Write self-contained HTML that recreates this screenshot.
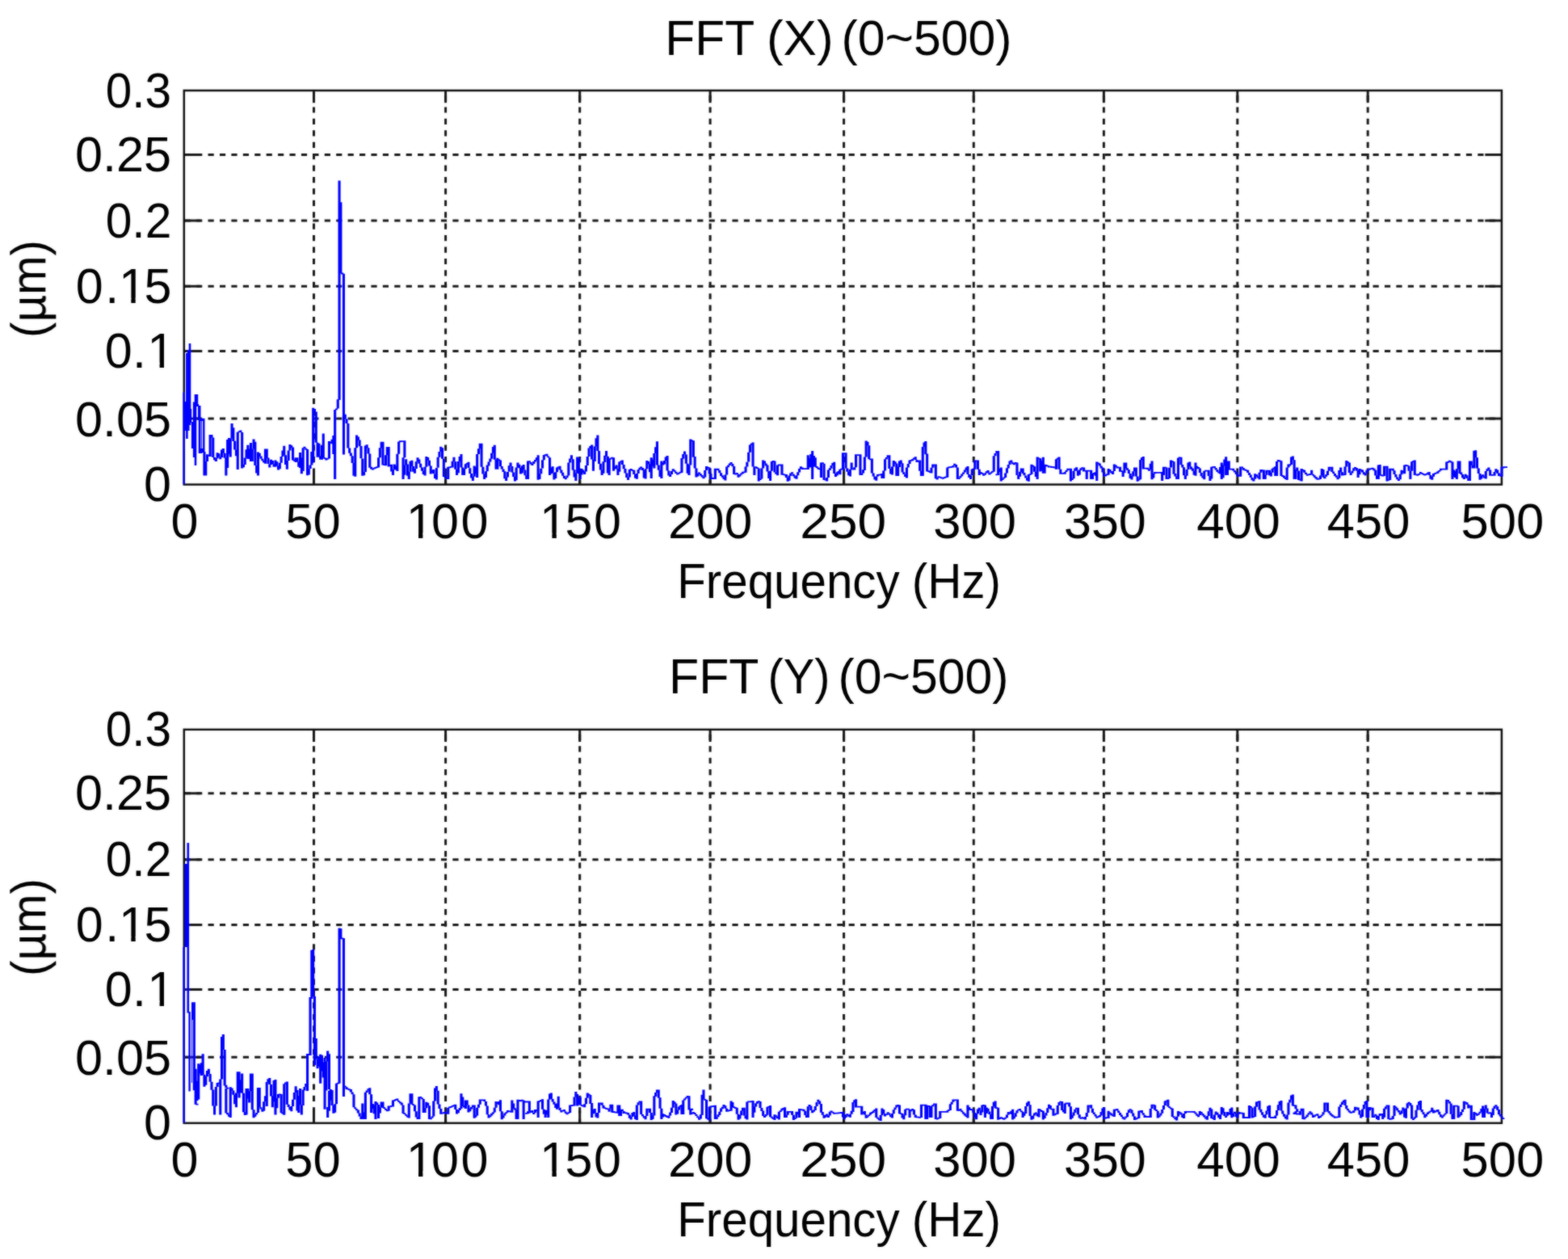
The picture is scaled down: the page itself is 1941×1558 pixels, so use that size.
<!DOCTYPE html>
<html lang="en">
<head>
<meta charset="utf-8">
<title>FFT (X) and FFT (Y) 0~500 Hz</title>
<style>
html,body{margin:0;padding:0;background:#fff;}
body{width:1941px;height:1558px;overflow:hidden;}
svg{display:block;}
.t{font-family:"Liberation Sans",sans-serif;font-size:61.0px;fill:#000;font-kerning:none;white-space:pre;}
.fr{fill:none;stroke:#111;stroke-width:2.5;}
.tk{fill:none;stroke:#1a1a1a;stroke-width:3.0;}
.gv{fill:none;stroke:#1a1a1a;stroke-width:3.0;stroke-dasharray:7.2 7.22;stroke-dashoffset:-6;}
.gh{fill:none;stroke:#1a1a1a;stroke-width:3.0;stroke-dasharray:7.2 7.22;stroke-dashoffset:-0.9;}
.ln{fill:#0000ff;stroke:none;}
</style>
</head>
<body>
<svg width="1941" height="1558" viewBox="0 0 1941 1558">
<defs><filter id="soft" x="0" y="0" width="1941" height="1558" filterUnits="userSpaceOnUse"><feGaussianBlur stdDeviation="1" result="b"/><feComposite in="SourceGraphic" in2="b" operator="arithmetic" k1="0" k2="0.5" k3="0.5" k4="0"/></filter><clipPath id="c0"><path clip-rule="evenodd" d="M465.5 595.7H642.1V695.7H465.5zM505.3 659.6H518.0V667.7H505.3zM523.4 659.6H535.6V667.7H523.4z"/></clipPath><clipPath id="c1"><path clip-rule="evenodd" d="M631.6 595.7H806.7V695.7H631.6zM670.7 659.6H683.4V667.7H670.7zM688.8 659.6H701.0V667.7H688.8z"/></clipPath><clipPath id="c2"><path clip-rule="evenodd" d="M56.4 304.8H249.6V404.8H56.4zM149.6 368.7H162.3V376.8H149.6zM167.7 368.7H179.9V376.8H167.7z"/></clipPath><clipPath id="c3"><path clip-rule="evenodd" d="M92.9 384.5H242.8V484.5H92.9zM184.9 448.4H197.6V456.5H184.9zM203.0 448.4H215.2V456.5H203.0z"/></clipPath><clipPath id="c4"><path clip-rule="evenodd" d="M465.5 1385.7H642.1V1485.7H465.5zM505.3 1449.6H518.0V1457.7H505.3zM523.4 1449.6H535.6V1457.7H523.4z"/></clipPath><clipPath id="c5"><path clip-rule="evenodd" d="M631.6 1385.7H806.7V1485.7H631.6zM670.7 1449.6H683.4V1457.7H670.7zM688.8 1449.6H701.0V1457.7H688.8z"/></clipPath><clipPath id="c6"><path clip-rule="evenodd" d="M56.4 1094.8H249.6V1194.8H56.4zM149.6 1158.7H162.3V1166.8H149.6zM167.7 1158.7H179.9V1166.8H167.7z"/></clipPath><clipPath id="c7"><path clip-rule="evenodd" d="M92.9 1174.5H242.8V1274.5H92.9zM184.9 1238.4H197.6V1246.5H184.9zM203.0 1238.4H215.2V1246.5H203.0z"/></clipPath></defs>
<rect width="1941" height="1558" fill="#fff"/>
<g filter="url(#soft)">
<g id="axes1">
<path class="gv" d="M388.5 112.0V599.6M551.6 112.0V599.6M717.7 112.0V599.6M879.1 112.0V599.6M1044.6 112.0V599.6M1205.3 112.0V599.6M1366.4 112.0V599.6M1531.8 112.0V599.6M1693.2 112.0V599.6"/>
<path class="gh" d="M227.8 191.4H1858.9M227.8 273.0H1858.9M227.8 354.3H1858.9M227.8 434.6H1858.9M227.8 517.9H1858.9"/>
<path class="tk" d="M388.5 112.0v15.2M388.5 599.6v-15.2M551.6 112.0v15.2M551.6 599.6v-15.2M717.7 112.0v15.2M717.7 599.6v-15.2M879.1 112.0v15.2M879.1 599.6v-15.2M1044.6 112.0v15.2M1044.6 599.6v-15.2M1205.3 112.0v15.2M1205.3 599.6v-15.2M1366.4 112.0v15.2M1366.4 599.6v-15.2M1531.8 112.0v15.2M1531.8 599.6v-15.2M1693.2 112.0v15.2M1693.2 599.6v-15.2M227.8 191.4h20.6M1858.9 191.4h-20.6M227.8 273.0h20.6M1858.9 273.0h-20.6M227.8 354.3h20.6M1858.9 354.3h-20.6M227.8 434.6h20.6M1858.9 434.6h-20.6M227.8 517.9h20.6M1858.9 517.9h-20.6"/>
<rect class="fr" x="227.8" y="112.0" width="1631.1" height="487.6"/>
<path class="ln" d="M251.4 559.0h3.1v29.6h-3.1zM253.2 571.0h3.1v17.6h-3.1zM255.0 562.3h3.1v8.8h-3.1zM256.8 562.7h3.1v1.8h-3.1zM258.6 538.0h3.1v27.0h-3.1zM260.4 538.0h3.1v3.6h-3.1zM262.2 541.6h3.1v24.4h-3.1zM264.0 566.0h3.1v3.2h-3.1zM265.8 567.2h3.1v3.8h-3.1zM267.6 560.2h3.1v7.0h-3.1zM269.4 561.3h3.1v4.0h-3.1zM271.2 565.2h3.1v3.1h-3.1zM273.0 556.5h3.1v9.6h-3.1zM274.8 555.1h3.1v5.7h-3.1zM276.6 560.8h3.1v5.9h-3.1zM278.3 566.3h3.1v22.3h-3.1zM280.1 544.1h3.1v34.9h-3.1zM281.9 542.0h3.1v19.9h-3.1zM283.7 542.6h3.1v23.0h-3.1zM285.5 523.9h3.1v18.7h-3.1zM287.3 529.3h3.1v16.6h-3.1zM289.1 545.8h3.1v10.6h-3.1zM290.9 556.4h3.1v7.9h-3.1zM292.7 534.8h3.1v46.2h-3.1zM294.5 533.5h3.1v1.8h-3.1zM296.3 532.5h3.1v2.6h-3.1zM298.1 535.0h3.1v44.6h-3.1zM299.9 574.8h3.1v3.5h-3.1zM301.7 566.5h3.1v8.6h-3.1zM303.5 556.3h3.1v10.3h-3.1zM305.3 550.8h3.1v17.2h-3.1zM307.1 555.6h3.1v12.4h-3.1zM308.9 548.0h3.1v23.0h-3.1zM310.7 555.4h3.1v15.6h-3.1zM312.5 543.4h3.1v12.0h-3.1zM314.3 546.8h3.1v29.2h-3.1zM316.1 576.0h3.1v9.6h-3.1zM317.9 559.5h3.1v29.1h-3.1zM319.7 560.7h3.1v4.2h-3.1zM321.5 564.4h3.1v3.3h-3.1zM323.3 567.7h3.1v2.5h-3.1zM325.1 570.1h3.1v2.5h-3.1zM326.9 555.5h3.1v18.2h-3.1zM328.7 555.5h3.1v11.6h-3.1zM330.4 566.4h3.1v7.7h-3.1zM332.2 574.2h3.1v4.3h-3.1zM334.0 568.7h3.1v6.3h-3.1zM335.8 570.1h3.1v4.1h-3.1zM337.6 574.2h3.1v3.6h-3.1zM339.4 569.6h3.1v8.2h-3.1zM341.2 571.3h3.1v5.1h-3.1zM343.0 576.4h3.1v5.1h-3.1zM344.8 572.7h3.1v7.6h-3.1zM346.6 565.1h3.1v7.6h-3.1zM348.4 557.5h3.1v7.6h-3.1zM350.2 551.8h3.1v11.4h-3.1zM352.0 563.2h3.1v11.8h-3.1zM353.8 569.9h3.1v10.8h-3.1zM355.6 557.6h3.1v12.3h-3.1zM357.4 550.1h3.1v7.5h-3.1zM359.2 551.2h3.1v2.8h-3.1zM361.0 553.6h3.1v15.8h-3.1zM362.8 568.6h3.1v2.1h-3.1zM364.6 566.2h3.1v5.8h-3.1zM366.4 566.2h3.1v5.3h-3.1zM368.2 571.5h3.1v6.2h-3.1zM370.0 560.1h3.1v18.9h-3.1zM371.8 566.6h3.1v19.7h-3.1zM373.6 554.3h3.1v28.6h-3.1zM375.4 552.7h3.1v2.1h-3.1zM377.2 554.8h3.1v2.0h-3.1zM379.0 556.0h3.1v32.2h-3.1zM380.7 580.0h3.1v7.4h-3.1zM382.5 575.5h3.1v4.5h-3.1zM384.3 559.0h3.1v16.5h-3.1zM386.1 504.8h3.1v67.6h-3.1zM387.9 505.9h3.1v3.5h-3.1zM389.7 509.4h3.1v38.3h-3.1zM391.5 547.7h3.1v18.0h-3.1zM393.3 548.7h3.1v17.0h-3.1zM395.1 564.2h3.1v4.6h-3.1zM396.9 550.8h3.1v18.0h-3.1zM398.7 536.4h3.1v30.4h-3.1zM400.5 566.3h3.1v1.8h-3.1zM402.3 567.3h3.1v2.2h-3.1zM404.1 566.7h3.1v1.8h-3.1zM405.9 545.9h3.1v21.5h-3.1zM407.7 546.7h3.1v1.8h-3.1zM409.5 543.8h3.1v5.5h-3.1zM411.3 538.9h3.1v23.2h-3.1zM413.1 507.0h3.1v86.0h-3.1zM414.9 505.5h3.1v1.8h-3.1zM416.7 494.2h3.1v11.3h-3.1zM418.5 223.6h3.1v271.4h-3.1zM420.3 250.2h3.1v88.1h-3.1zM422.1 337.6h3.1v1.8h-3.1zM423.9 338.7h3.1v223.7h-3.1zM425.7 512.7h3.1v5.7h-3.1zM427.5 518.4h3.1v5.6h-3.1zM429.3 524.0h3.1v30.4h-3.1zM431.1 554.4h3.1v6.3h-3.1zM432.8 560.6h3.1v3.6h-3.1zM434.6 564.2h3.1v8.9h-3.1zM436.4 573.1h3.1v15.7h-3.1zM438.2 554.2h3.1v35.5h-3.1zM440.0 538.4h3.1v15.8h-3.1zM441.8 540.4h3.1v4.5h-3.1zM443.6 544.4h3.1v7.8h-3.1zM445.4 552.1h3.1v15.2h-3.1zM447.2 567.4h3.1v21.3h-3.1zM449.0 583.9h3.1v4.3h-3.1zM450.8 551.5h3.1v32.4h-3.1zM452.6 550.3h3.1v4.1h-3.1zM454.4 554.3h3.1v7.1h-3.1zM456.2 561.5h3.1v17.2h-3.1zM458.0 577.8h3.1v2.7h-3.1zM459.8 579.4h3.1v2.0h-3.1zM461.6 578.7h3.1v1.8h-3.1zM463.4 577.9h3.1v1.8h-3.1zM465.2 577.2h3.1v1.8h-3.1zM467.0 566.2h3.1v12.3h-3.1zM468.8 554.3h3.1v11.9h-3.1zM470.6 546.7h3.1v7.7h-3.1zM472.4 546.7h3.1v28.8h-3.1zM474.2 574.2h3.1v1.8h-3.1zM476.0 563.2h3.1v13.1h-3.1zM477.8 552.9h3.1v10.3h-3.1zM479.6 552.9h3.1v24.5h-3.1zM481.4 575.1h3.1v1.8h-3.1zM483.1 574.7h3.1v8.9h-3.1zM484.9 580.9h3.1v7.0h-3.1zM486.7 574.5h3.1v6.4h-3.1zM488.5 576.6h3.1v4.8h-3.1zM490.3 561.8h3.1v21.2h-3.1zM492.1 546.4h3.1v15.4h-3.1zM493.9 545.3h3.1v1.9h-3.1zM495.7 545.3h3.1v1.8h-3.1zM497.5 545.3h3.1v1.8h-3.1zM497.5 566.2h3.1v26.8h-3.1zM499.3 545.3h3.1v20.9h-3.1zM499.3 575.4h3.1v12.3h-3.1zM501.1 568.3h3.1v7.1h-3.1zM502.9 574.4h3.1v14.3h-3.1zM504.7 583.8h3.1v9.2h-3.1zM506.5 570.7h3.1v13.1h-3.1zM508.3 569.7h3.1v7.3h-3.1zM510.1 577.0h3.1v6.7h-3.1zM511.9 579.9h3.1v5.9h-3.1zM513.7 571.3h3.1v8.6h-3.1zM515.5 566.2h3.1v5.1h-3.1zM517.3 568.4h3.1v5.4h-3.1zM519.1 573.7h3.1v4.7h-3.1zM520.9 578.4h3.1v4.3h-3.1zM522.7 582.7h3.1v4.3h-3.1zM524.5 577.8h3.1v10.6h-3.1zM526.3 564.9h3.1v12.8h-3.1zM528.1 565.9h3.1v3.9h-3.1zM529.9 569.8h3.1v6.6h-3.1zM531.7 576.5h3.1v9.9h-3.1zM533.5 582.2h3.1v2.9h-3.1zM535.2 581.0h3.1v5.3h-3.1zM537.0 586.4h3.1v5.6h-3.1zM538.8 578.9h3.1v14.6h-3.1zM540.6 565.7h3.1v13.1h-3.1zM542.4 559.0h3.1v6.7h-3.1zM544.2 552.7h3.1v6.3h-3.1zM546.0 554.2h3.1v13.5h-3.1zM547.8 567.7h3.1v22.2h-3.1zM549.6 589.1h3.1v2.0h-3.1zM551.4 591.1h3.1v1.9h-3.1zM553.2 577.7h3.1v15.3h-3.1zM555.0 577.4h3.1v1.8h-3.1zM556.8 577.0h3.1v1.8h-3.1zM558.6 570.8h3.1v7.8h-3.1zM560.4 565.7h3.1v5.5h-3.1zM562.2 571.2h3.1v9.5h-3.1zM564.0 580.7h3.1v7.2h-3.1zM565.8 571.1h3.1v14.1h-3.1zM567.6 564.9h3.1v6.3h-3.1zM569.4 562.1h3.1v16.5h-3.1zM571.2 578.6h3.1v9.3h-3.1zM573.0 580.2h3.1v7.7h-3.1zM574.8 574.2h3.1v6.0h-3.1zM576.6 572.9h3.1v1.8h-3.1zM578.4 571.7h3.1v7.4h-3.1zM580.2 579.2h3.1v6.9h-3.1zM582.0 586.1h3.1v5.4h-3.1zM583.8 589.8h3.1v5.3h-3.1zM585.6 576.4h3.1v13.4h-3.1zM587.3 578.0h3.1v8.3h-3.1zM589.1 562.1h3.1v28.9h-3.1zM590.9 555.2h3.1v6.9h-3.1zM592.7 548.7h3.1v6.5h-3.1zM594.5 548.7h3.1v29.0h-3.1zM596.3 577.7h3.1v8.8h-3.1zM598.1 586.5h3.1v6.5h-3.1zM599.9 583.3h3.1v7.7h-3.1zM601.7 575.6h3.1v7.7h-3.1zM603.5 571.5h3.1v5.0h-3.1zM605.3 567.4h3.1v4.1h-3.1zM607.1 560.8h3.1v6.9h-3.1zM608.9 553.1h3.1v7.7h-3.1zM610.7 550.8h3.1v17.9h-3.1zM612.5 568.7h3.1v12.0h-3.1zM614.3 566.8h3.1v13.9h-3.1zM616.1 568.2h3.1v2.1h-3.1zM617.9 569.5h3.1v7.7h-3.1zM619.7 577.0h3.1v3.5h-3.1zM621.5 580.5h3.1v3.4h-3.1zM623.3 583.3h3.1v8.9h-3.1zM625.1 590.6h3.1v4.5h-3.1zM626.9 583.9h3.1v6.7h-3.1zM628.7 576.3h3.1v7.5h-3.1zM630.5 572.4h3.1v4.5h-3.1zM632.3 576.9h3.1v7.7h-3.1zM634.1 584.5h3.1v5.4h-3.1zM635.9 590.0h3.1v5.6h-3.1zM637.6 578.5h3.1v15.7h-3.1zM639.4 572.4h3.1v6.1h-3.1zM641.2 574.7h3.1v4.6h-3.1zM643.0 579.1h3.1v7.4h-3.1zM644.8 576.6h3.1v8.8h-3.1zM646.6 575.1h3.1v6.4h-3.1zM648.4 581.5h3.1v6.8h-3.1zM650.2 588.3h3.1v4.7h-3.1zM652.0 570.4h3.1v22.6h-3.1zM653.8 570.3h3.1v1.8h-3.1zM655.6 571.9h3.1v2.5h-3.1zM657.4 573.8h3.1v2.1h-3.1zM659.2 571.0h3.1v3.1h-3.1zM661.0 569.0h3.1v2.4h-3.1zM662.8 566.2h3.1v3.4h-3.1zM664.6 563.2h3.1v30.6h-3.1zM666.4 586.3h3.1v6.6h-3.1zM668.2 579.7h3.1v6.6h-3.1zM670.0 569.3h3.1v10.3h-3.1zM671.8 563.0h3.1v6.3h-3.1zM673.6 562.3h3.1v1.8h-3.1zM675.4 561.8h3.1v2.6h-3.1zM677.2 564.4h3.1v1.8h-3.1zM679.0 566.2h3.1v21.7h-3.1zM680.8 578.8h3.1v7.4h-3.1zM682.6 577.3h3.1v7.8h-3.1zM684.4 585.1h3.1v8.4h-3.1zM686.2 584.3h3.1v7.8h-3.1zM688.0 578.4h3.1v5.9h-3.1zM689.7 577.5h3.1v1.8h-3.1zM691.5 576.7h3.1v4.7h-3.1zM693.3 581.5h3.1v4.1h-3.1zM695.1 584.8h3.1v4.0h-3.1zM696.9 588.8h3.1v3.2h-3.1zM698.7 591.2h3.1v2.1h-3.1zM700.5 588.6h3.1v2.7h-3.1zM702.3 572.4h3.1v16.2h-3.1zM704.1 567.4h3.1v5.0h-3.1zM705.9 563.2h3.1v5.0h-3.1zM707.7 568.2h3.1v13.5h-3.1zM709.5 581.3h3.1v9.3h-3.1zM711.3 585.6h3.1v9.5h-3.1zM713.1 565.6h3.1v20.0h-3.1zM714.9 566.7h3.1v19.3h-3.1zM716.7 586.0h3.1v7.0h-3.1zM718.5 580.1h3.1v7.5h-3.1zM720.3 581.4h3.1v3.6h-3.1zM722.1 583.5h3.1v3.4h-3.1zM723.9 576.0h3.1v7.4h-3.1zM725.7 565.1h3.1v10.9h-3.1zM727.5 554.5h3.1v10.6h-3.1zM729.3 551.9h3.1v3.0h-3.1zM731.1 550.5h3.1v18.1h-3.1zM732.9 568.6h3.1v14.1h-3.1zM734.7 552.5h3.1v18.6h-3.1zM736.5 542.3h3.1v10.1h-3.1zM738.3 538.4h3.1v19.6h-3.1zM740.0 558.0h3.1v15.9h-3.1zM741.8 573.7h3.1v7.7h-3.1zM743.6 581.4h3.1v6.5h-3.1zM745.4 571.3h3.1v14.4h-3.1zM747.2 563.7h3.1v8.3h-3.1zM749.0 558.0h3.1v6.7h-3.1zM750.8 564.7h3.1v20.7h-3.1zM752.6 567.4h3.1v20.5h-3.1zM754.4 566.8h3.1v1.8h-3.1zM756.2 565.8h3.1v1.8h-3.1zM758.0 566.2h3.1v16.5h-3.1zM759.8 577.3h3.1v3.2h-3.1zM761.6 575.5h3.1v4.7h-3.1zM763.4 580.2h3.1v7.7h-3.1zM765.2 571.4h3.1v12.4h-3.1zM767.0 570.4h3.1v1.8h-3.1zM768.8 569.5h3.1v5.5h-3.1zM770.6 575.0h3.1v5.2h-3.1zM772.4 580.0h3.1v5.6h-3.1zM774.2 585.5h3.1v5.4h-3.1zM776.0 590.4h3.1v3.7h-3.1zM777.8 581.1h3.1v9.3h-3.1zM779.6 580.0h3.1v2.1h-3.1zM781.4 581.3h3.1v1.8h-3.1zM783.2 581.8h3.1v5.3h-3.1zM785.0 587.1h3.1v4.6h-3.1zM786.8 585.9h3.1v6.9h-3.1zM788.6 581.1h3.1v4.8h-3.1zM790.4 578.7h3.1v2.7h-3.1zM792.1 577.5h3.1v2.1h-3.1zM793.9 579.1h3.1v3.0h-3.1zM795.7 581.7h3.1v9.7h-3.1zM797.5 580.3h3.1v12.3h-3.1zM799.3 569.9h3.1v10.4h-3.1zM801.1 571.1h3.1v3.5h-3.1zM802.9 574.2h3.1v10.0h-3.1zM804.7 566.2h3.1v25.8h-3.1zM806.5 568.8h3.1v8.0h-3.1zM808.3 561.1h3.1v18.5h-3.1zM810.1 553.3h3.1v7.8h-3.1zM811.9 546.2h3.1v29.3h-3.1zM813.7 575.5h3.1v6.2h-3.1zM815.5 581.7h3.1v8.2h-3.1zM817.3 570.4h3.1v21.6h-3.1zM819.1 572.2h3.1v3.2h-3.1zM820.9 569.9h3.1v4.5h-3.1zM822.7 565.4h3.1v4.5h-3.1zM824.5 563.9h3.1v18.5h-3.1zM826.3 582.4h3.1v6.0h-3.1zM828.1 586.9h3.1v3.1h-3.1zM829.9 582.9h3.1v4.0h-3.1zM831.7 580.3h3.1v2.6h-3.1zM833.5 581.7h3.1v2.1h-3.1zM835.3 583.8h3.1v2.1h-3.1zM837.1 585.5h3.1v2.0h-3.1zM838.9 584.8h3.1v1.8h-3.1zM840.7 583.8h3.1v1.8h-3.1zM842.4 567.1h3.1v17.8h-3.1zM844.2 562.0h3.1v5.7h-3.1zM846.0 558.5h3.1v4.1h-3.1zM847.8 562.6h3.1v11.1h-3.1zM849.6 573.7h3.1v12.1h-3.1zM851.4 575.5h3.1v12.4h-3.1zM853.2 543.6h3.1v31.9h-3.1zM855.0 544.6h3.1v1.8h-3.1zM856.8 545.3h3.1v20.4h-3.1zM858.6 564.9h3.1v14.7h-3.1zM860.4 579.6h3.1v11.0h-3.1zM862.2 586.1h3.1v3.5h-3.1zM864.0 584.5h3.1v1.9h-3.1zM865.8 586.3h3.1v2.4h-3.1zM867.6 587.9h3.1v2.7h-3.1zM869.4 590.3h3.1v1.9h-3.1zM871.2 582.1h3.1v8.3h-3.1zM873.0 577.0h3.1v5.1h-3.1zM874.8 577.8h3.1v1.8h-3.1zM876.6 578.6h3.1v7.7h-3.1zM878.4 586.2h3.1v6.7h-3.1zM880.2 591.1h3.1v1.8h-3.1zM882.0 591.1h3.1v1.8h-3.1zM883.8 579.8h3.1v13.1h-3.1zM885.6 579.8h3.1v1.8h-3.1zM887.4 579.8h3.1v2.5h-3.1zM889.2 582.1h3.1v3.2h-3.1zM891.0 585.3h3.1v3.7h-3.1zM892.8 588.3h3.1v2.4h-3.1zM894.5 590.7h3.1v2.4h-3.1zM896.3 587.6h3.1v6.9h-3.1zM898.1 577.5h3.1v10.1h-3.1zM899.9 575.8h3.1v2.4h-3.1zM901.7 573.5h3.1v2.4h-3.1zM903.5 572.0h3.1v2.1h-3.1zM905.3 574.1h3.1v3.1h-3.1zM907.1 577.0h3.1v9.9h-3.1zM908.9 585.7h3.1v1.8h-3.1zM910.7 585.1h3.1v2.0h-3.1zM912.5 586.8h3.1v3.9h-3.1zM914.3 587.6h3.1v2.0h-3.1zM916.1 585.6h3.1v2.0h-3.1zM917.9 583.8h3.1v2.4h-3.1zM919.7 583.4h3.1v1.8h-3.1zM921.5 577.6h3.1v7.2h-3.1zM923.3 571.7h3.1v5.9h-3.1zM925.1 559.7h3.1v11.9h-3.1zM926.9 550.4h3.1v9.3h-3.1zM928.7 548.7h3.1v2.1h-3.1zM930.5 547.6h3.1v30.0h-3.1zM932.3 577.6h3.1v10.3h-3.1zM934.1 577.2h3.1v1.8h-3.1zM935.9 578.2h3.1v1.8h-3.1zM937.7 579.6h3.1v15.8h-3.1zM939.5 592.1h3.1v1.8h-3.1zM941.3 579.6h3.1v12.8h-3.1zM943.1 569.5h3.1v10.1h-3.1zM944.9 570.4h3.1v3.0h-3.1zM946.6 573.4h3.1v3.0h-3.1zM948.4 575.6h3.1v7.9h-3.1zM950.2 583.3h3.1v8.8h-3.1zM952.0 582.7h3.1v12.4h-3.1zM953.8 571.1h3.1v11.6h-3.1zM955.6 570.1h3.1v1.8h-3.1zM957.4 570.4h3.1v14.1h-3.1zM959.2 584.5h3.1v2.2h-3.1zM961.0 575.5h3.1v12.7h-3.1zM962.8 574.6h3.1v1.8h-3.1zM964.6 574.6h3.1v1.8h-3.1zM966.4 574.6h3.1v13.2h-3.1zM968.2 586.3h3.1v1.8h-3.1zM970.0 586.7h3.1v1.8h-3.1zM971.8 586.9h3.1v4.2h-3.1zM973.6 591.1h3.1v4.6h-3.1zM975.4 588.5h3.1v6.2h-3.1zM977.2 585.5h3.1v3.6h-3.1zM979.0 584.2h3.1v2.4h-3.1zM980.8 586.7h3.1v2.5h-3.1zM982.6 589.2h3.1v2.5h-3.1zM984.4 588.3h3.1v4.5h-3.1zM986.2 584.2h3.1v4.1h-3.1zM988.0 580.0h3.1v4.4h-3.1zM989.8 577.2h3.1v2.8h-3.1zM991.6 578.5h3.1v2.6h-3.1zM993.4 579.3h3.1v1.8h-3.1zM995.2 579.3h3.1v1.8h-3.1zM996.9 579.3h3.1v1.8h-3.1zM998.7 563.2h3.1v17.9h-3.1zM1000.5 567.0h3.1v11.6h-3.1zM1002.3 562.1h3.1v16.5h-3.1zM1004.1 558.0h3.1v35.0h-3.1zM1005.9 564.0h3.1v13.6h-3.1zM1007.7 566.2h3.1v11.6h-3.1zM1009.5 577.1h3.1v1.9h-3.1zM1011.3 578.4h3.1v2.3h-3.1zM1013.1 579.5h3.1v1.8h-3.1zM1014.9 572.4h3.1v18.6h-3.1zM1016.7 572.2h3.1v1.8h-3.1zM1018.5 573.8h3.1v20.2h-3.1zM1020.3 592.8h3.1v1.8h-3.1zM1022.1 591.1h3.1v4.5h-3.1zM1023.9 581.5h3.1v9.6h-3.1zM1025.7 579.2h3.1v2.8h-3.1zM1027.5 576.1h3.1v3.7h-3.1zM1029.3 573.0h3.1v3.1h-3.1zM1031.1 571.8h3.1v14.1h-3.1zM1032.9 585.9h3.1v4.2h-3.1zM1034.7 584.2h3.1v4.2h-3.1zM1036.5 583.1h3.1v2.7h-3.1zM1038.3 580.7h3.1v6.6h-3.1zM1040.1 579.8h3.1v1.8h-3.1zM1041.9 560.2h3.1v21.4h-3.1zM1043.7 560.2h3.1v1.8h-3.1zM1045.5 560.2h3.1v19.4h-3.1zM1047.3 579.6h3.1v4.1h-3.1zM1049.0 583.7h3.1v4.6h-3.1zM1050.8 580.7h3.1v8.8h-3.1zM1052.6 572.4h3.1v8.3h-3.1zM1054.4 579.8h3.1v1.8h-3.1zM1056.2 578.2h3.1v3.4h-3.1zM1058.0 562.3h3.1v15.9h-3.1zM1059.8 562.3h3.1v1.8h-3.1zM1061.6 562.3h3.1v1.8h-3.1zM1063.4 562.3h3.1v25.6h-3.1zM1065.2 585.4h3.1v2.5h-3.1zM1067.0 581.3h3.1v4.2h-3.1zM1068.8 565.5h3.1v16.4h-3.1zM1070.6 545.6h3.1v19.8h-3.1zM1072.4 546.8h3.1v4.5h-3.1zM1074.2 551.3h3.1v17.0h-3.1zM1076.0 567.4h3.1v1.8h-3.1zM1077.8 567.4h3.1v18.1h-3.1zM1079.6 585.5h3.1v4.0h-3.1zM1081.4 589.5h3.1v4.0h-3.1zM1083.2 589.6h3.1v5.1h-3.1zM1085.0 586.9h3.1v2.7h-3.1zM1086.8 586.7h3.1v1.8h-3.1zM1088.6 586.4h3.1v1.8h-3.1zM1090.4 586.1h3.1v5.9h-3.1zM1092.2 582.5h3.1v9.5h-3.1zM1094.0 568.3h3.1v14.2h-3.1zM1095.8 565.9h3.1v2.4h-3.1zM1097.6 563.2h3.1v2.7h-3.1zM1099.3 563.2h3.1v16.7h-3.1zM1101.1 579.9h3.1v6.6h-3.1zM1102.9 577.6h3.1v10.0h-3.1zM1104.7 569.9h3.1v7.7h-3.1zM1106.5 571.2h3.1v2.8h-3.1zM1108.3 573.4h3.1v15.5h-3.1zM1110.1 577.3h3.1v11.6h-3.1zM1111.9 570.5h3.1v7.4h-3.1zM1113.7 569.6h3.1v4.3h-3.1zM1115.5 573.3h3.1v11.1h-3.1zM1117.3 584.2h3.1v2.9h-3.1zM1119.1 587.1h3.1v2.9h-3.1zM1120.9 578.6h3.1v12.8h-3.1zM1122.7 574.0h3.1v4.6h-3.1zM1124.5 569.4h3.1v4.6h-3.1zM1126.3 569.0h3.1v1.8h-3.1zM1128.1 568.0h3.1v2.3h-3.1zM1129.9 566.5h3.1v2.1h-3.1zM1131.7 565.2h3.1v3.7h-3.1zM1133.5 568.9h3.1v3.2h-3.1zM1135.3 569.9h3.1v1.8h-3.1zM1137.1 569.6h3.1v13.1h-3.1zM1138.9 582.7h3.1v6.2h-3.1zM1140.7 553.0h3.1v35.9h-3.1zM1142.5 547.4h3.1v5.6h-3.1zM1144.3 545.9h3.1v16.3h-3.1zM1146.1 561.4h3.1v22.2h-3.1zM1147.9 582.3h3.1v1.8h-3.1zM1149.7 583.2h3.1v1.8h-3.1zM1151.4 578.8h3.1v6.8h-3.1zM1153.2 574.6h3.1v4.2h-3.1zM1155.0 574.6h3.1v1.8h-3.1zM1156.8 574.6h3.1v17.6h-3.1zM1158.6 591.0h3.1v2.5h-3.1zM1160.4 589.2h3.1v2.1h-3.1zM1162.2 589.8h3.1v1.8h-3.1zM1164.0 590.5h3.1v1.8h-3.1zM1165.8 590.8h3.1v2.0h-3.1zM1167.6 590.2h3.1v1.8h-3.1zM1169.4 589.5h3.1v1.8h-3.1zM1171.2 578.6h3.1v12.2h-3.1zM1173.0 577.5h3.1v1.8h-3.1zM1174.8 577.2h3.1v1.8h-3.1zM1176.6 576.9h3.1v1.8h-3.1zM1178.4 575.9h3.1v2.6h-3.1zM1180.2 573.8h3.1v2.3h-3.1zM1182.0 575.0h3.1v3.6h-3.1zM1183.8 578.6h3.1v14.4h-3.1zM1185.6 591.2h3.1v1.8h-3.1zM1187.4 589.0h3.1v2.2h-3.1zM1189.2 586.4h3.1v2.9h-3.1zM1191.0 584.5h3.1v2.3h-3.1zM1192.8 581.4h3.1v3.1h-3.1zM1194.6 578.4h3.1v3.5h-3.1zM1196.4 577.1h3.1v9.8h-3.1zM1198.2 586.9h3.1v4.0h-3.1zM1200.0 588.2h3.1v4.8h-3.1zM1201.7 580.6h3.1v7.5h-3.1zM1203.5 579.9h3.1v1.8h-3.1zM1205.3 569.5h3.1v11.3h-3.1zM1207.1 569.5h3.1v1.8h-3.1zM1208.9 569.5h3.1v11.2h-3.1zM1210.7 580.7h3.1v7.4h-3.1zM1212.5 584.1h3.1v2.5h-3.1zM1214.3 585.0h3.1v1.8h-3.1zM1216.1 586.3h3.1v2.4h-3.1zM1217.9 585.5h3.1v2.3h-3.1zM1219.7 583.3h3.1v2.3h-3.1zM1221.5 582.1h3.1v3.3h-3.1zM1223.3 585.3h3.1v2.1h-3.1zM1225.1 584.4h3.1v1.8h-3.1zM1226.9 582.9h3.1v1.8h-3.1zM1228.7 564.2h3.1v19.6h-3.1zM1230.5 561.1h3.1v3.1h-3.1zM1232.3 558.0h3.1v3.1h-3.1zM1232.3 586.4h3.1v1.8h-3.1zM1234.1 558.0h3.1v29.9h-3.1zM1235.9 580.1h3.1v3.9h-3.1zM1237.7 578.5h3.1v17.0h-3.1zM1239.5 592.3h3.1v1.8h-3.1zM1241.3 590.5h3.1v1.8h-3.1zM1243.1 585.5h3.1v5.6h-3.1zM1244.9 579.2h3.1v6.3h-3.1zM1246.7 575.0h3.1v4.4h-3.1zM1248.5 570.6h3.1v4.4h-3.1zM1250.3 569.6h3.1v2.7h-3.1zM1252.1 572.3h3.1v2.0h-3.1zM1253.8 573.0h3.1v2.3h-3.1zM1255.6 572.0h3.1v1.8h-3.1zM1257.4 572.4h3.1v15.6h-3.1zM1259.2 588.0h3.1v5.0h-3.1zM1261.0 583.8h3.1v6.0h-3.1zM1262.8 579.6h3.1v4.5h-3.1zM1264.6 579.6h3.1v6.3h-3.1zM1266.4 585.1h3.1v3.2h-3.1zM1268.2 588.4h3.1v3.2h-3.1zM1270.0 591.6h3.1v3.2h-3.1zM1271.8 586.9h3.1v8.9h-3.1zM1273.6 586.3h3.1v1.8h-3.1zM1275.4 574.7h3.1v12.4h-3.1zM1277.2 575.7h3.1v2.1h-3.1zM1279.0 577.3h3.1v6.4h-3.1zM1280.8 583.7h3.1v6.4h-3.1zM1282.6 565.6h3.1v27.4h-3.1zM1284.4 566.5h3.1v1.8h-3.1zM1286.2 567.3h3.1v16.1h-3.1zM1288.0 570.3h3.1v12.2h-3.1zM1289.8 565.7h3.1v20.1h-3.1zM1291.6 574.7h3.1v11.1h-3.1zM1293.4 575.1h3.1v1.8h-3.1zM1295.2 575.7h3.1v1.8h-3.1zM1297.0 576.4h3.1v2.1h-3.1zM1298.8 576.8h3.1v1.8h-3.1zM1300.6 577.1h3.1v1.8h-3.1zM1302.4 577.3h3.1v1.8h-3.1zM1304.2 577.6h3.1v1.8h-3.1zM1305.9 568.3h3.1v12.4h-3.1zM1307.7 566.7h3.1v1.8h-3.1zM1309.5 565.4h3.1v15.3h-3.1zM1311.3 580.7h3.1v6.0h-3.1zM1313.1 584.9h3.1v1.8h-3.1zM1314.9 584.9h3.1v1.8h-3.1zM1316.7 584.0h3.1v2.7h-3.1zM1318.5 581.9h3.1v2.2h-3.1zM1320.3 579.8h3.1v2.4h-3.1zM1322.1 579.8h3.1v1.8h-3.1zM1323.9 579.8h3.1v15.6h-3.1zM1325.7 591.6h3.1v2.4h-3.1zM1327.5 582.7h3.1v9.5h-3.1zM1329.3 579.5h3.1v3.2h-3.1zM1331.1 578.2h3.1v4.5h-3.1zM1332.9 582.6h3.1v6.1h-3.1zM1334.7 581.6h3.1v6.2h-3.1zM1336.5 579.3h3.1v2.8h-3.1zM1338.3 578.2h3.1v1.8h-3.1zM1340.1 578.6h3.1v5.0h-3.1zM1341.9 581.8h3.1v1.8h-3.1zM1343.7 581.8h3.1v11.2h-3.1zM1345.5 581.8h3.1v1.8h-3.1zM1347.3 581.8h3.1v1.8h-3.1zM1349.1 581.8h3.1v11.2h-3.1zM1350.9 585.9h3.1v7.1h-3.1zM1352.7 585.1h3.1v1.8h-3.1zM1354.5 584.2h3.1v4.6h-3.1zM1356.2 571.6h3.1v23.5h-3.1zM1358.0 572.4h3.1v1.8h-3.1zM1359.8 573.4h3.1v3.1h-3.1zM1361.6 576.5h3.1v3.0h-3.1zM1363.4 578.6h3.1v6.0h-3.1zM1365.2 584.6h3.1v5.1h-3.1zM1367.0 587.4h3.1v1.8h-3.1zM1368.8 586.5h3.1v1.8h-3.1zM1370.6 580.1h3.1v7.7h-3.1zM1372.4 581.1h3.1v2.7h-3.1zM1374.2 583.2h3.1v2.4h-3.1zM1376.0 583.1h3.1v4.0h-3.1zM1377.8 574.6h3.1v8.5h-3.1zM1379.6 575.6h3.1v2.2h-3.1zM1381.4 577.3h3.1v2.2h-3.1zM1383.2 577.7h3.1v1.8h-3.1zM1385.0 577.7h3.1v6.0h-3.1zM1386.8 582.3h3.1v1.8h-3.1zM1388.6 582.8h3.1v7.1h-3.1zM1390.4 572.4h3.1v12.8h-3.1zM1392.2 572.4h3.1v7.4h-3.1zM1394.0 579.3h3.1v2.4h-3.1zM1395.8 581.3h3.1v4.8h-3.1zM1397.6 586.1h3.1v6.0h-3.1zM1399.4 589.1h3.1v4.3h-3.1zM1401.2 583.2h3.1v6.2h-3.1zM1403.0 578.6h3.1v4.6h-3.1zM1404.8 578.6h3.1v10.8h-3.1zM1406.6 589.4h3.1v6.4h-3.1zM1408.3 592.8h3.1v1.8h-3.1zM1410.1 569.1h3.1v24.2h-3.1zM1411.9 566.3h3.1v3.2h-3.1zM1413.7 565.1h3.1v15.4h-3.1zM1415.5 578.7h3.1v1.8h-3.1zM1417.3 578.7h3.1v1.8h-3.1zM1419.1 578.7h3.1v2.3h-3.1zM1420.9 580.6h3.1v2.1h-3.1zM1422.7 573.7h3.1v7.1h-3.1zM1424.5 570.4h3.1v22.8h-3.1zM1426.3 585.9h3.1v5.7h-3.1zM1428.1 583.9h3.1v2.3h-3.1zM1429.9 583.9h3.1v1.8h-3.1zM1431.7 583.9h3.1v1.8h-3.1zM1433.5 583.9h3.1v1.8h-3.1zM1435.3 583.9h3.1v1.8h-3.1zM1437.1 583.9h3.1v11.2h-3.1zM1438.9 577.7h3.1v10.2h-3.1zM1440.7 577.7h3.1v1.8h-3.1zM1442.5 578.6h3.1v14.3h-3.1zM1444.3 591.1h3.1v1.8h-3.1zM1446.1 578.7h3.1v13.3h-3.1zM1447.9 569.5h3.1v9.1h-3.1zM1449.7 570.3h3.1v1.8h-3.1zM1451.5 571.2h3.1v15.6h-3.1zM1453.3 586.0h3.1v3.6h-3.1zM1455.1 589.6h3.1v3.4h-3.1zM1456.9 566.7h3.1v26.3h-3.1zM1458.6 565.4h3.1v1.8h-3.1zM1460.4 565.7h3.1v9.5h-3.1zM1462.2 575.1h3.1v3.5h-3.1zM1464.0 578.2h3.1v10.0h-3.1zM1465.8 588.2h3.1v4.8h-3.1zM1467.6 581.1h3.1v7.7h-3.1zM1469.4 572.5h3.1v8.6h-3.1zM1471.2 571.6h3.1v5.9h-3.1zM1473.0 577.5h3.1v3.3h-3.1zM1474.8 579.5h3.1v3.3h-3.1zM1476.6 582.8h3.1v5.0h-3.1zM1478.4 572.4h3.1v16.3h-3.1zM1480.2 576.7h3.1v3.6h-3.1zM1482.0 578.0h3.1v1.9h-3.1zM1483.8 579.4h3.1v5.6h-3.1zM1485.6 584.9h3.1v4.4h-3.1zM1487.4 589.1h3.1v2.5h-3.1zM1489.2 582.7h3.1v10.5h-3.1zM1491.0 581.8h3.1v1.8h-3.1zM1492.8 581.8h3.1v1.8h-3.1zM1494.6 581.8h3.1v7.2h-3.1zM1496.4 589.0h3.1v6.1h-3.1zM1498.2 577.7h3.1v14.9h-3.1zM1500.0 577.3h3.1v1.8h-3.1zM1501.8 576.9h3.1v2.4h-3.1zM1503.6 579.0h3.1v2.5h-3.1zM1505.4 581.2h3.1v2.9h-3.1zM1507.2 583.7h3.1v1.8h-3.1zM1509.0 578.1h3.1v8.5h-3.1zM1510.7 572.4h3.1v20.6h-3.1zM1512.5 575.6h3.1v15.7h-3.1zM1514.3 568.4h3.1v8.0h-3.1zM1516.1 565.2h3.1v22.7h-3.1zM1517.9 570.4h3.1v17.5h-3.1zM1519.7 570.4h3.1v11.2h-3.1zM1521.5 579.8h3.1v1.8h-3.1zM1523.3 579.8h3.1v1.8h-3.1zM1525.1 579.8h3.1v2.6h-3.1zM1526.9 582.2h3.1v2.4h-3.1zM1528.7 583.8h3.1v3.2h-3.1zM1530.5 587.0h3.1v2.8h-3.1zM1532.3 588.0h3.1v1.8h-3.1zM1534.1 577.6h3.1v12.2h-3.1zM1535.9 577.5h3.1v1.8h-3.1zM1537.7 579.1h3.1v2.6h-3.1zM1539.5 580.4h3.1v1.8h-3.1zM1541.3 581.3h3.1v1.8h-3.1zM1543.1 581.8h3.1v3.2h-3.1zM1544.9 584.9h3.1v3.2h-3.1zM1546.7 587.5h3.1v3.5h-3.1zM1548.5 591.1h3.1v3.2h-3.1zM1550.3 592.7h3.1v2.7h-3.1zM1552.1 586.2h3.1v6.5h-3.1zM1553.9 587.3h3.1v2.1h-3.1zM1555.7 589.4h3.1v2.1h-3.1zM1557.5 584.7h3.1v8.5h-3.1zM1559.3 580.9h3.1v3.8h-3.1zM1561.0 581.2h3.1v1.8h-3.1zM1562.8 581.6h3.1v11.4h-3.1zM1564.6 587.7h3.1v5.3h-3.1zM1566.4 581.8h3.1v5.9h-3.1zM1568.2 581.8h3.1v1.8h-3.1zM1570.0 581.8h3.1v6.4h-3.1zM1571.8 584.7h3.1v4.7h-3.1zM1573.6 579.7h3.1v5.1h-3.1zM1575.4 578.6h3.1v1.8h-3.1zM1577.2 577.2h3.1v11.7h-3.1zM1579.0 571.0h3.1v17.9h-3.1zM1580.8 569.1h3.1v2.5h-3.1zM1582.6 569.6h3.1v1.8h-3.1zM1584.4 570.2h3.1v18.8h-3.1zM1586.2 588.1h3.1v1.8h-3.1zM1588.0 588.8h3.1v2.6h-3.1zM1589.8 591.1h3.1v1.8h-3.1zM1591.6 578.5h3.1v15.4h-3.1zM1593.4 574.6h3.1v3.9h-3.1zM1595.2 574.3h3.1v2.1h-3.1zM1597.0 565.6h3.1v9.3h-3.1zM1598.8 564.5h3.1v4.7h-3.1zM1600.6 569.2h3.1v23.8h-3.1zM1602.4 581.2h3.1v11.8h-3.1zM1604.2 578.6h3.1v4.1h-3.1zM1606.0 582.7h3.1v11.2h-3.1zM1607.8 592.7h3.1v1.8h-3.1zM1609.6 580.0h3.1v15.5h-3.1zM1611.4 581.0h3.1v1.8h-3.1zM1613.1 581.7h3.1v3.0h-3.1zM1614.9 584.7h3.1v2.3h-3.1zM1616.7 586.6h3.1v2.1h-3.1zM1618.5 586.5h3.1v1.8h-3.1zM1620.3 586.1h3.1v1.8h-3.1zM1622.1 581.7h3.1v5.2h-3.1zM1623.9 586.7h3.1v1.8h-3.1zM1625.7 588.3h3.1v2.4h-3.1zM1627.5 590.0h3.1v2.5h-3.1zM1629.3 591.6h3.1v2.2h-3.1zM1631.1 591.7h3.1v1.8h-3.1zM1632.9 588.6h3.1v4.5h-3.1zM1634.7 579.9h3.1v8.6h-3.1zM1636.5 581.0h3.1v9.7h-3.1zM1638.3 589.8h3.1v2.4h-3.1zM1640.1 587.3h3.1v2.5h-3.1zM1641.9 582.8h3.1v5.2h-3.1zM1643.7 577.7h3.1v5.1h-3.1zM1645.5 577.7h3.1v1.8h-3.1zM1647.3 577.7h3.1v6.4h-3.1zM1649.1 583.6h3.1v2.3h-3.1zM1650.9 585.9h3.1v3.1h-3.1zM1652.7 588.2h3.1v2.5h-3.1zM1654.5 590.8h3.1v2.5h-3.1zM1656.3 581.9h3.1v9.9h-3.1zM1658.1 578.6h3.1v5.6h-3.1zM1659.9 584.2h3.1v4.4h-3.1zM1661.7 586.4h3.1v1.8h-3.1zM1663.5 577.4h3.1v10.5h-3.1zM1665.2 569.9h3.1v7.5h-3.1zM1667.0 571.2h3.1v2.1h-3.1zM1668.8 572.5h3.1v12.5h-3.1zM1670.6 585.1h3.1v2.8h-3.1zM1672.4 582.7h3.1v2.8h-3.1zM1674.2 579.3h3.1v3.4h-3.1zM1676.0 578.0h3.1v2.1h-3.1zM1677.8 579.1h3.1v3.5h-3.1zM1679.6 581.8h3.1v9.2h-3.1zM1681.4 580.0h3.1v7.3h-3.1zM1683.2 580.7h3.1v1.8h-3.1zM1685.0 581.5h3.1v2.9h-3.1zM1686.8 584.3h3.1v3.0h-3.1zM1688.6 585.5h3.1v3.0h-3.1zM1690.4 581.7h3.1v3.7h-3.1zM1692.2 580.8h3.1v1.8h-3.1zM1694.0 579.6h3.1v2.0h-3.1zM1695.8 579.2h3.1v1.8h-3.1zM1697.6 578.8h3.1v1.9h-3.1zM1699.4 579.8h3.1v2.8h-3.1zM1701.2 581.7h3.1v6.7h-3.1zM1703.0 588.4h3.1v4.6h-3.1zM1704.8 575.5h3.1v17.5h-3.1zM1706.6 574.9h3.1v13.0h-3.1zM1708.4 587.3h3.1v1.8h-3.1zM1710.2 587.8h3.1v1.8h-3.1zM1712.0 576.7h3.1v12.2h-3.1zM1713.8 576.7h3.1v1.8h-3.1zM1715.5 576.7h3.1v18.9h-3.1zM1717.3 592.9h3.1v1.8h-3.1zM1719.1 579.8h3.1v14.2h-3.1zM1720.9 579.8h3.1v1.8h-3.1zM1722.7 579.8h3.1v2.6h-3.1zM1724.5 582.2h3.1v4.8h-3.1zM1726.3 587.0h3.1v3.6h-3.1zM1728.1 590.5h3.1v2.7h-3.1zM1729.9 593.1h3.1v2.0h-3.1zM1731.7 586.7h3.1v6.5h-3.1zM1733.5 581.8h3.1v5.4h-3.1zM1735.3 582.8h3.1v2.1h-3.1zM1737.1 575.5h3.1v10.8h-3.1zM1738.9 574.9h3.1v1.8h-3.1zM1740.7 575.4h3.1v1.8h-3.1zM1742.5 576.6h3.1v6.1h-3.1zM1744.3 582.7h3.1v10.3h-3.1zM1746.1 571.2h3.1v11.6h-3.1zM1747.9 570.2h3.1v1.8h-3.1zM1749.7 569.5h3.1v18.4h-3.1zM1751.5 586.4h3.1v1.8h-3.1zM1753.3 586.8h3.1v1.9h-3.1zM1755.1 585.9h3.1v1.8h-3.1zM1756.9 584.1h3.1v2.1h-3.1zM1758.7 584.9h3.1v1.8h-3.1zM1760.5 585.9h3.1v1.8h-3.1zM1762.3 586.7h3.1v1.8h-3.1zM1764.1 585.9h3.1v1.8h-3.1zM1765.9 584.8h3.1v1.8h-3.1zM1767.6 584.1h3.1v3.9h-3.1zM1769.4 588.0h3.1v4.8h-3.1zM1771.2 589.7h3.1v4.1h-3.1zM1773.0 585.9h3.1v3.8h-3.1zM1774.8 585.3h3.1v1.8h-3.1zM1776.6 584.4h3.1v1.8h-3.1zM1778.4 583.2h3.1v2.5h-3.1zM1780.2 581.9h3.1v1.8h-3.1zM1782.0 579.8h3.1v2.5h-3.1zM1783.8 579.8h3.1v1.8h-3.1zM1785.6 579.8h3.1v1.8h-3.1zM1787.4 579.8h3.1v1.8h-3.1zM1789.2 571.5h3.1v10.1h-3.1zM1791.0 570.9h3.1v1.8h-3.1zM1792.8 569.7h3.1v2.0h-3.1zM1794.6 570.6h3.1v1.8h-3.1zM1796.4 571.4h3.1v21.6h-3.1zM1798.2 581.5h3.1v8.4h-3.1zM1800.0 583.2h3.1v7.8h-3.1zM1801.8 580.2h3.1v12.8h-3.1zM1803.6 570.4h3.1v10.0h-3.1zM1805.4 570.4h3.1v15.5h-3.1zM1807.2 584.6h3.1v2.7h-3.1zM1809.0 587.0h3.1v4.2h-3.1zM1810.8 590.1h3.1v2.9h-3.1zM1812.6 586.7h3.1v3.4h-3.1zM1814.4 588.3h3.1v3.6h-3.1zM1816.2 591.9h3.1v3.2h-3.1zM1817.9 570.4h3.1v24.7h-3.1zM1819.7 570.4h3.1v5.3h-3.1zM1821.5 575.7h3.1v3.9h-3.1zM1823.3 557.8h3.1v21.8h-3.1zM1825.1 557.3h3.1v8.9h-3.1zM1826.9 566.2h3.1v13.4h-3.1zM1828.7 579.6h3.1v6.4h-3.1zM1830.5 586.0h3.1v7.7h-3.1zM1832.3 588.2h3.1v4.4h-3.1zM1834.1 587.2h3.1v2.5h-3.1zM1835.9 589.6h3.1v1.8h-3.1zM1837.7 583.0h3.1v9.6h-3.1zM1839.5 580.3h3.1v2.7h-3.1zM1841.3 578.6h3.1v2.9h-3.1zM1843.1 581.5h3.1v7.3h-3.1zM1844.9 587.0h3.1v1.8h-3.1zM1846.7 587.0h3.1v1.8h-3.1zM1848.5 584.1h3.1v4.7h-3.1zM1850.3 580.2h3.1v3.9h-3.1zM1852.1 581.5h3.1v4.2h-3.1zM1853.9 585.6h3.1v3.3h-3.1zM1855.7 587.6h3.1v1.8h-3.1zM1857.5 577.7h3.1v12.0h-3.1zM1859.3 577.6h3.1v1.8h-3.1zM1861.1 577.3h3.1v1.8h-3.1zM1862.9 577.2h3.1v1.8h-3.1zM226.5 485.5h2.2v113.5h-2.2zM228.3 497.0h2.6v36.0h-2.6zM230.1 437.0h2.6v106.0h-2.6zM231.9 433.0h2.6v100.0h-2.6zM233.7 425.0h2.6v101.0h-2.6zM236.2 506.0h1.0v17.0h-1.0zM236.9 522.0h2.6v33.0h-2.6zM238.9 497.6h2.6v68.4h-2.6zM240.7 488.0h2.6v88.0h-2.6zM242.6 488.0h2.6v15.0h-2.6zM245.0 500.0h1.2v20.0h-1.2zM245.7 502.0h2.8v59.0h-2.8zM247.7 518.0h2.6v3.0h-2.6zM249.3 518.0h2.6v3.0h-2.6zM247.7 555.0h2.6v6.0h-2.6zM249.3 555.0h2.6v5.0h-2.6zM249.2 521.0h0.9v34.0h-0.9zM251.1 517.8h2.4v42.2h-2.4z"/>
<text class="t" y="665.7"><tspan x="211.54">0</tspan></text>
<text class="t" y="665.7"><tspan x="353.34" textLength="68.47" lengthAdjust="spacingAndGlyphs">50</tspan></text>
<text class="t" clip-path="url(#c0)" x="502.67 534.09 570.44" y="665.7">100</text>
<text class="t" clip-path="url(#c1)" x="668.07 699.50 735.04" y="665.7">150</text>
<text class="t" y="665.7"><tspan x="826.95" textLength="104.39" lengthAdjust="spacingAndGlyphs">200</tspan></text>
<text class="t" y="665.7"><tspan x="990.38" textLength="106.82" lengthAdjust="spacingAndGlyphs">250</tspan></text>
<text class="t" y="665.7"><tspan x="1155.36" textLength="102.54" lengthAdjust="spacingAndGlyphs">300</tspan></text>
<text class="t" y="665.7"><tspan x="1316.98" textLength="101.81" lengthAdjust="spacingAndGlyphs">350</tspan></text>
<text class="t" y="665.7"><tspan x="1481.17" textLength="103.65" lengthAdjust="spacingAndGlyphs">400</tspan></text>
<text class="t" y="665.7"><tspan x="1642.89" textLength="102.61" lengthAdjust="spacingAndGlyphs">450</tspan></text>
<text class="t" y="665.7"><tspan x="1808.64" textLength="102.67" lengthAdjust="spacingAndGlyphs">500</tspan></text>
<text class="t" y="133.0"><tspan x="130.72" textLength="81.25" lengthAdjust="spacingAndGlyphs">0.3</tspan></text>
<text class="t" y="212.1"><tspan x="92.91" textLength="119.06" lengthAdjust="spacingAndGlyphs">0.25</tspan></text>
<text class="t" y="293.9"><tspan x="130.71" textLength="81.65" lengthAdjust="spacingAndGlyphs">0.2</tspan></text>
<text class="t" clip-path="url(#c2)" x="93.69 130.33 146.97 178.45" y="374.8">0.15</text>
<text class="t" clip-path="url(#c3)" x="129.84 164.03 182.27" y="454.5">0.1</text>
<text class="t" y="539.7"><tspan x="92.91" textLength="119.06" lengthAdjust="spacingAndGlyphs">0.05</tspan></text>
<text class="t" y="619.7"><tspan x="178.04">0</tspan></text>
<text class="t" y="67.6"><tspan x="823.24" textLength="110.85" lengthAdjust="spacingAndGlyphs">FFT</tspan> <tspan x="948.95" textLength="82.69" lengthAdjust="spacingAndGlyphs">(X)</tspan> <tspan x="1041.43" textLength="211.14" lengthAdjust="spacingAndGlyphs">(0~500)</tspan></text>
<text class="t" y="740.2"><tspan x="838.22" textLength="275.40" lengthAdjust="spacingAndGlyphs">Frequency</tspan> <tspan x="1128.68" textLength="110.35" lengthAdjust="spacingAndGlyphs">(Hz)</tspan></text>
<text class="t" transform="translate(56.3 418.0) rotate(-90)" textLength="121.03" lengthAdjust="spacingAndGlyphs">(µm)</text>
</g>
<g id="axes2">
<path class="gv" d="M388.5 902.8V1389.8M551.6 902.8V1389.8M717.7 902.8V1389.8M879.1 902.8V1389.8M1044.6 902.8V1389.8M1205.3 902.8V1389.8M1366.4 902.8V1389.8M1531.8 902.8V1389.8M1693.2 902.8V1389.8"/>
<path class="gh" d="M227.8 981.7H1858.9M227.8 1063.7H1858.9M227.8 1144.6H1858.9M227.8 1224.6H1858.9M227.8 1308.2H1858.9"/>
<path class="tk" d="M388.5 902.8v15.2M388.5 1389.8v-15.2M551.6 902.8v15.2M551.6 1389.8v-15.2M717.7 902.8v15.2M717.7 1389.8v-15.2M879.1 902.8v15.2M879.1 1389.8v-15.2M1044.6 902.8v15.2M1044.6 1389.8v-15.2M1205.3 902.8v15.2M1205.3 1389.8v-15.2M1366.4 902.8v15.2M1366.4 1389.8v-15.2M1531.8 902.8v15.2M1531.8 1389.8v-15.2M1693.2 902.8v15.2M1693.2 1389.8v-15.2M227.8 981.7h20.6M1858.9 981.7h-20.6M227.8 1063.7h20.6M1858.9 1063.7h-20.6M227.8 1144.6h20.6M1858.9 1144.6h-20.6M227.8 1224.6h20.6M1858.9 1224.6h-20.6M227.8 1308.2h20.6M1858.9 1308.2h-20.6"/>
<rect class="fr" x="227.8" y="902.8" width="1631.1" height="487.0"/>
<path class="ln" d="M237.0 1240.2h3.1v21.8h-3.1zM238.8 1240.2h3.1v109.1h-3.1zM240.6 1322.8h3.1v43.9h-3.1zM242.4 1337.8h3.1v24.3h-3.1zM242.4 1365.7h3.1v1.8h-3.1zM244.2 1316.3h3.1v44.1h-3.1zM246.0 1317.4h3.1v10.9h-3.1zM247.8 1315.2h3.1v15.7h-3.1zM249.6 1304.3h3.1v25.5h-3.1zM251.4 1329.8h3.1v15.0h-3.1zM253.2 1331.8h3.1v10.9h-3.1zM255.0 1325.1h3.1v7.1h-3.1zM256.8 1322.8h3.1v6.3h-3.1zM258.6 1329.1h3.1v9.6h-3.1zM260.4 1338.7h3.1v10.0h-3.1zM262.2 1348.6h3.1v20.0h-3.1zM264.0 1368.6h3.1v10.8h-3.1zM265.8 1345.0h3.1v23.6h-3.1zM267.6 1340.1h3.1v4.9h-3.1zM269.4 1339.5h3.1v1.8h-3.1zM271.2 1335.5h3.1v43.9h-3.1zM273.0 1283.0h3.1v52.5h-3.1zM274.8 1280.1h3.1v18.8h-3.1zM276.6 1298.9h3.1v44.6h-3.1zM278.3 1342.7h3.1v3.6h-3.1zM278.3 1347.1h3.1v30.3h-3.1zM280.1 1345.8h3.1v1.8h-3.1zM280.1 1376.9h3.1v2.4h-3.1zM281.9 1379.3h3.1v2.4h-3.1zM283.7 1345.2h3.1v37.9h-3.1zM285.5 1346.4h3.1v3.1h-3.1zM287.3 1349.5h3.1v5.3h-3.1zM289.1 1354.8h3.1v11.5h-3.1zM290.9 1352.5h3.1v17.7h-3.1zM292.7 1326.3h3.1v26.2h-3.1zM294.5 1326.3h3.1v32.3h-3.1zM296.3 1336.6h3.1v15.4h-3.1zM298.1 1328.6h3.1v24.2h-3.1zM299.9 1352.8h3.1v23.4h-3.1zM301.7 1376.2h3.1v3.8h-3.1zM303.5 1347.1h3.1v32.4h-3.1zM305.3 1347.1h3.1v12.4h-3.1zM307.1 1350.3h3.1v14.1h-3.1zM308.9 1328.6h3.1v21.7h-3.1zM310.7 1328.6h3.1v44.7h-3.1zM312.5 1373.3h3.1v10.0h-3.1zM314.3 1379.2h3.1v2.6h-3.1zM316.1 1377.1h3.1v2.1h-3.1zM317.9 1345.9h3.1v31.2h-3.1zM319.7 1345.9h3.1v24.3h-3.1zM321.5 1370.2h3.1v2.3h-3.1zM323.3 1372.5h3.1v3.2h-3.1zM325.1 1363.3h3.1v11.5h-3.1zM326.9 1356.3h3.1v7.0h-3.1zM328.7 1339.0h3.1v30.0h-3.1zM330.4 1335.2h3.1v4.5h-3.1zM332.2 1333.9h3.1v8.0h-3.1zM334.0 1341.9h3.1v14.5h-3.1zM335.8 1356.3h3.1v13.9h-3.1zM337.6 1337.0h3.1v26.2h-3.1zM339.4 1335.9h3.1v43.5h-3.1zM341.2 1358.8h3.1v12.4h-3.1zM343.0 1354.0h3.1v4.8h-3.1zM344.8 1353.4h3.1v1.8h-3.1zM346.6 1354.0h3.1v23.3h-3.1zM348.4 1376.6h3.1v1.8h-3.1zM350.2 1341.3h3.1v38.4h-3.1zM352.0 1339.6h3.1v1.8h-3.1zM353.8 1338.5h3.1v28.2h-3.1zM355.6 1366.7h3.1v3.4h-3.1zM357.4 1370.1h3.1v3.5h-3.1zM359.2 1369.1h3.1v6.1h-3.1zM361.0 1360.8h3.1v8.3h-3.1zM362.8 1351.9h3.1v8.8h-3.1zM364.6 1344.2h3.1v7.7h-3.1zM366.4 1348.9h3.1v25.7h-3.1zM368.2 1355.9h3.1v21.2h-3.1zM370.0 1347.1h3.1v20.1h-3.1zM371.8 1367.2h3.1v12.2h-3.1zM373.6 1348.5h3.1v19.4h-3.1zM375.4 1345.1h3.1v4.3h-3.1zM377.2 1340.9h3.1v4.2h-3.1zM379.0 1304.1h3.1v45.9h-3.1zM380.7 1304.1h3.1v1.8h-3.1zM382.5 1234.1h3.1v71.8h-3.1zM384.3 1175.7h3.1v60.2h-3.1zM386.1 1175.0h3.1v58.0h-3.1zM387.9 1233.0h3.1v85.0h-3.1zM389.7 1285.0h3.1v25.4h-3.1zM391.5 1310.4h3.1v11.8h-3.1zM393.3 1307.6h3.1v12.1h-3.1zM395.1 1304.7h3.1v36.1h-3.1zM396.9 1305.8h3.1v19.8h-3.1zM398.7 1314.6h3.1v19.0h-3.1zM400.5 1308.9h3.1v63.8h-3.1zM402.3 1313.5h3.1v36.0h-3.1zM404.1 1300.6h3.1v12.9h-3.1zM404.1 1370.0h3.1v13.0h-3.1zM405.9 1304.3h3.1v43.7h-3.1zM405.9 1349.7h3.1v25.0h-3.1zM407.7 1348.0h3.1v13.7h-3.1zM409.5 1349.0h3.1v19.1h-3.1zM411.3 1368.1h3.1v9.6h-3.1zM413.1 1366.3h3.1v10.4h-3.1zM414.9 1340.7h3.1v25.6h-3.1zM416.7 1339.8h3.1v1.8h-3.1zM418.5 1148.5h3.1v192.3h-3.1zM420.3 1149.0h3.1v13.0h-3.1zM422.1 1160.5h3.1v1.8h-3.1zM423.9 1160.9h3.1v196.1h-3.1zM425.7 1343.8h3.1v1.8h-3.1zM427.5 1345.3h3.1v2.6h-3.1zM429.3 1346.7h3.1v1.8h-3.1zM431.1 1347.5h3.1v1.8h-3.1zM432.8 1348.0h3.1v3.5h-3.1zM434.6 1351.5h3.1v2.7h-3.1zM436.4 1354.2h3.1v16.1h-3.1zM438.2 1370.2h3.1v2.0h-3.1zM440.0 1372.2h3.1v2.0h-3.1zM441.8 1373.6h3.1v4.0h-3.1zM443.6 1377.6h3.1v3.9h-3.1zM445.4 1381.5h3.1v3.6h-3.1zM447.2 1365.5h3.1v19.6h-3.1zM449.0 1376.6h3.1v8.5h-3.1zM450.8 1351.7h3.1v33.4h-3.1zM452.6 1349.6h3.1v2.4h-3.1zM454.4 1347.2h3.1v2.4h-3.1zM456.2 1346.2h3.1v8.0h-3.1zM458.0 1354.2h3.1v22.7h-3.1zM459.8 1366.1h3.1v6.0h-3.1zM461.6 1367.5h3.1v10.7h-3.1zM463.4 1363.1h3.1v22.0h-3.1zM465.2 1364.4h3.1v2.5h-3.1zM467.0 1366.9h3.1v17.2h-3.1zM468.8 1370.3h3.1v7.3h-3.1zM470.6 1363.5h3.1v6.8h-3.1zM472.4 1363.5h3.1v7.4h-3.1zM474.2 1370.3h3.1v1.8h-3.1zM476.0 1372.0h3.1v1.8h-3.1zM477.8 1373.4h3.1v1.8h-3.1zM479.6 1368.6h3.1v6.2h-3.1zM481.4 1368.4h3.1v1.8h-3.1zM483.1 1368.0h3.1v1.8h-3.1zM484.9 1361.5h3.1v8.1h-3.1zM486.7 1361.0h3.1v1.8h-3.1zM488.5 1360.0h3.1v1.8h-3.1zM490.3 1359.5h3.1v2.6h-3.1zM492.1 1361.9h3.1v1.8h-3.1zM493.9 1363.6h3.1v1.8h-3.1zM495.7 1364.5h3.1v3.1h-3.1zM497.5 1367.6h3.1v10.4h-3.1zM499.3 1377.2h3.1v1.8h-3.1zM501.1 1378.9h3.1v1.8h-3.1zM502.9 1380.7h3.1v1.8h-3.1zM504.7 1365.5h3.1v18.1h-3.1zM506.5 1353.2h3.1v12.3h-3.1zM508.3 1353.2h3.1v13.6h-3.1zM510.1 1366.2h3.1v1.8h-3.1zM511.9 1367.4h3.1v7.9h-3.1zM513.7 1375.3h3.1v7.1h-3.1zM515.5 1382.3h3.1v2.8h-3.1zM517.3 1357.3h3.1v27.8h-3.1zM519.1 1357.0h3.1v1.8h-3.1zM520.9 1358.5h3.1v1.8h-3.1zM522.7 1360.0h3.1v16.9h-3.1zM524.5 1371.2h3.1v5.7h-3.1zM526.3 1363.7h3.1v7.5h-3.1zM528.1 1364.7h3.1v3.6h-3.1zM529.9 1368.3h3.1v16.8h-3.1zM531.7 1383.4h3.1v1.8h-3.1zM533.5 1381.4h3.1v2.1h-3.1zM535.2 1362.4h3.1v19.1h-3.1zM537.0 1346.6h3.1v15.8h-3.1zM538.8 1343.9h3.1v5.9h-3.1zM540.6 1349.8h3.1v16.8h-3.1zM542.4 1366.6h3.1v5.4h-3.1zM544.2 1372.0h3.1v6.8h-3.1zM546.0 1376.7h3.1v1.8h-3.1zM547.8 1376.3h3.1v1.8h-3.1zM549.6 1376.0h3.1v1.9h-3.1zM551.4 1376.6h3.1v1.8h-3.1zM553.2 1370.7h3.1v8.0h-3.1zM555.0 1369.5h3.1v1.8h-3.1zM556.8 1368.9h3.1v1.8h-3.1zM558.6 1368.0h3.1v1.8h-3.1zM560.4 1367.2h3.1v1.8h-3.1zM562.2 1366.7h3.1v6.3h-3.1zM564.0 1373.1h3.1v5.4h-3.1zM565.8 1373.5h3.1v3.7h-3.1zM567.6 1371.1h3.1v2.9h-3.1zM569.4 1353.2h3.1v18.7h-3.1zM571.2 1357.5h3.1v11.2h-3.1zM573.0 1368.0h3.1v2.4h-3.1zM574.8 1361.4h3.1v10.6h-3.1zM576.6 1361.4h3.1v6.2h-3.1zM578.4 1367.6h3.1v8.9h-3.1zM580.2 1371.8h3.1v3.5h-3.1zM582.0 1370.1h3.1v2.5h-3.1zM583.8 1367.6h3.1v2.5h-3.1zM585.6 1367.6h3.1v16.1h-3.1zM587.3 1380.2h3.1v2.4h-3.1zM589.1 1370.7h3.1v9.8h-3.1zM590.9 1366.8h3.1v3.9h-3.1zM592.7 1360.5h3.1v6.3h-3.1zM594.5 1360.5h3.1v1.8h-3.1zM596.3 1360.5h3.1v1.8h-3.1zM598.1 1360.5h3.1v2.6h-3.1zM599.9 1363.1h3.1v5.5h-3.1zM601.7 1368.6h3.1v10.7h-3.1zM603.5 1379.3h3.1v4.2h-3.1zM605.3 1380.4h3.1v1.8h-3.1zM607.1 1377.8h3.1v2.7h-3.1zM608.9 1376.2h3.1v2.4h-3.1zM610.7 1370.8h3.1v5.6h-3.1zM612.5 1362.9h3.1v7.9h-3.1zM614.3 1364.0h3.1v2.1h-3.1zM616.1 1362.9h3.1v4.4h-3.1zM617.9 1361.2h3.1v14.1h-3.1zM619.7 1375.3h3.1v9.9h-3.1zM621.5 1380.4h3.1v3.1h-3.1zM623.3 1377.5h3.1v3.0h-3.1zM625.1 1376.2h3.1v1.8h-3.1zM626.9 1374.0h3.1v2.4h-3.1zM628.7 1374.2h3.1v1.8h-3.1zM630.5 1374.7h3.1v1.8h-3.1zM632.3 1361.4h3.1v15.3h-3.1zM634.1 1365.5h3.1v6.3h-3.1zM635.9 1371.2h3.1v2.4h-3.1zM637.6 1373.3h3.1v11.8h-3.1zM639.4 1360.7h3.1v24.4h-3.1zM641.2 1361.1h3.1v1.8h-3.1zM643.0 1361.3h3.1v1.9h-3.1zM644.8 1360.8h3.1v1.8h-3.1zM646.6 1361.4h3.1v23.7h-3.1zM648.4 1362.6h3.1v1.8h-3.1zM650.2 1362.6h3.1v1.8h-3.1zM650.2 1376.9h3.1v1.8h-3.1zM652.0 1362.6h3.1v1.8h-3.1zM652.0 1375.2h3.1v3.1h-3.1zM653.8 1362.6h3.1v12.6h-3.1zM653.8 1375.6h3.1v1.8h-3.1zM655.6 1374.7h3.1v1.8h-3.1zM657.4 1374.1h3.1v2.8h-3.1zM659.2 1376.9h3.1v2.0h-3.1zM661.0 1372.9h3.1v4.1h-3.1zM662.8 1372.9h3.1v1.8h-3.1zM664.6 1362.6h3.1v20.4h-3.1zM666.4 1362.0h3.1v1.8h-3.1zM668.2 1360.9h3.1v1.8h-3.1zM670.0 1360.2h3.1v12.5h-3.1zM671.8 1372.7h3.1v6.1h-3.1zM673.6 1373.8h3.1v9.2h-3.1zM675.4 1373.8h3.1v5.4h-3.1zM677.2 1360.6h3.1v22.4h-3.1zM679.0 1353.5h3.1v7.1h-3.1zM680.8 1352.5h3.1v7.8h-3.1zM682.6 1359.9h3.1v3.5h-3.1zM684.4 1363.4h3.1v3.3h-3.1zM686.2 1366.1h3.1v5.0h-3.1zM688.0 1365.4h3.1v7.4h-3.1zM689.7 1356.8h3.1v13.9h-3.1zM691.5 1370.7h3.1v3.3h-3.1zM693.3 1374.0h3.1v2.4h-3.1zM695.1 1373.7h3.1v1.8h-3.1zM696.9 1373.0h3.1v2.5h-3.1zM698.7 1375.5h3.1v2.2h-3.1zM700.5 1377.4h3.1v1.9h-3.1zM702.3 1376.2h3.1v1.8h-3.1zM704.1 1367.6h3.1v9.3h-3.1zM705.9 1367.3h3.1v1.8h-3.1zM707.7 1366.9h3.1v1.8h-3.1zM709.5 1357.5h3.1v11.0h-3.1zM711.3 1351.1h3.1v6.4h-3.1zM713.1 1353.9h3.1v14.5h-3.1zM714.9 1360.0h3.1v7.4h-3.1zM716.7 1357.3h3.1v10.3h-3.1zM718.5 1367.0h3.1v1.8h-3.1zM720.3 1367.8h3.1v1.8h-3.1zM722.1 1366.2h3.1v4.1h-3.1zM723.9 1358.8h3.1v7.4h-3.1zM725.7 1352.5h3.1v6.3h-3.1zM727.5 1353.7h3.1v2.1h-3.1zM729.3 1355.1h3.1v10.8h-3.1zM731.1 1365.1h3.1v17.9h-3.1zM732.9 1373.2h3.1v5.0h-3.1zM734.7 1372.1h3.1v5.2h-3.1zM736.5 1377.3h3.1v5.1h-3.1zM738.3 1376.9h3.1v6.7h-3.1zM740.0 1364.6h3.1v12.3h-3.1zM741.8 1364.6h3.1v1.8h-3.1zM743.6 1364.6h3.1v3.2h-3.1zM745.4 1367.8h3.1v3.8h-3.1zM747.2 1370.2h3.1v1.8h-3.1zM749.0 1370.9h3.1v1.8h-3.1zM750.8 1371.5h3.1v1.8h-3.1zM752.6 1371.6h3.1v4.2h-3.1zM754.4 1366.7h3.1v4.9h-3.1zM756.2 1366.7h3.1v10.0h-3.1zM758.0 1375.1h3.1v1.8h-3.1zM759.8 1375.4h3.1v1.8h-3.1zM761.6 1375.8h3.1v1.8h-3.1zM763.4 1367.6h3.1v10.2h-3.1zM765.2 1367.6h3.1v13.4h-3.1zM767.0 1372.7h3.1v8.3h-3.1zM768.8 1372.7h3.1v2.4h-3.1zM770.6 1375.1h3.1v2.8h-3.1zM772.4 1376.3h3.1v1.8h-3.1zM774.2 1376.6h3.1v1.8h-3.1zM776.0 1376.9h3.1v2.7h-3.1zM777.8 1379.6h3.1v4.2h-3.1zM779.6 1381.9h3.1v3.5h-3.1zM781.4 1377.1h3.1v4.8h-3.1zM783.2 1376.1h3.1v4.7h-3.1zM785.0 1380.8h3.1v4.1h-3.1zM786.8 1367.5h3.1v18.4h-3.1zM788.6 1364.3h3.1v3.2h-3.1zM790.4 1362.4h3.1v1.9h-3.1zM792.1 1362.4h3.1v16.5h-3.1zM793.9 1378.9h3.1v2.3h-3.1zM795.7 1381.2h3.1v2.4h-3.1zM797.5 1381.1h3.1v4.2h-3.1zM799.3 1371.8h3.1v9.3h-3.1zM801.1 1371.8h3.1v1.8h-3.1zM802.9 1371.8h3.1v5.1h-3.1zM804.7 1376.9h3.1v9.0h-3.1zM806.5 1380.5h3.1v4.5h-3.1zM808.3 1356.3h3.1v24.3h-3.1zM810.1 1352.0h3.1v5.1h-3.1zM811.9 1348.5h3.1v3.5h-3.1zM813.7 1348.5h3.1v10.2h-3.1zM815.5 1358.3h3.1v13.4h-3.1zM817.3 1371.7h3.1v13.4h-3.1zM819.1 1378.2h3.1v4.4h-3.1zM820.9 1379.0h3.1v1.8h-3.1zM822.7 1380.1h3.1v1.8h-3.1zM824.5 1381.3h3.1v1.8h-3.1zM826.3 1380.5h3.1v3.3h-3.1zM828.1 1376.6h3.1v3.9h-3.1zM829.9 1370.7h3.1v6.4h-3.1zM831.7 1362.1h3.1v8.6h-3.1zM833.5 1363.5h3.1v2.4h-3.1zM835.3 1365.4h3.1v14.1h-3.1zM837.1 1373.6h3.1v4.8h-3.1zM838.9 1369.4h3.1v4.2h-3.1zM840.7 1368.1h3.1v1.9h-3.1zM842.4 1367.0h3.1v11.9h-3.1zM844.2 1361.4h3.1v17.5h-3.1zM846.0 1359.6h3.1v1.8h-3.1zM847.8 1357.8h3.1v1.8h-3.1zM849.6 1356.1h3.1v1.8h-3.1zM851.4 1356.2h3.1v17.4h-3.1zM853.2 1371.8h3.1v7.7h-3.1zM855.0 1371.8h3.1v2.3h-3.1zM855.0 1377.0h3.1v1.8h-3.1zM856.8 1376.1h3.1v2.0h-3.1zM858.6 1377.1h3.1v2.0h-3.1zM860.4 1379.1h3.1v2.0h-3.1zM862.2 1381.2h3.1v2.0h-3.1zM864.0 1383.2h3.1v2.5h-3.1zM865.8 1379.3h3.1v5.3h-3.1zM867.6 1354.8h3.1v25.2h-3.1zM869.4 1348.5h3.1v11.9h-3.1zM871.2 1360.0h3.1v1.8h-3.1zM873.0 1361.0h3.1v23.2h-3.1zM874.8 1383.6h3.1v1.8h-3.1zM876.6 1369.6h3.1v17.0h-3.1zM878.4 1368.6h3.1v1.8h-3.1zM880.2 1368.3h3.1v1.8h-3.1zM882.0 1368.1h3.1v1.8h-3.1zM883.8 1367.8h3.1v17.3h-3.1zM885.6 1382.3h3.1v2.8h-3.1zM887.4 1379.2h3.1v3.1h-3.1zM889.2 1375.7h3.1v4.3h-3.1zM891.0 1371.6h3.1v4.1h-3.1zM892.8 1369.7h3.1v2.5h-3.1zM894.5 1367.0h3.1v2.7h-3.1zM896.3 1368.2h3.1v3.6h-3.1zM898.1 1371.8h3.1v3.9h-3.1zM899.9 1373.6h3.1v1.8h-3.1zM901.7 1373.2h3.1v1.8h-3.1zM903.5 1362.4h3.1v12.4h-3.1zM905.3 1364.1h3.1v6.4h-3.1zM907.1 1369.3h3.1v1.8h-3.1zM908.9 1370.2h3.1v1.8h-3.1zM910.7 1370.7h3.1v8.1h-3.1zM912.5 1378.8h3.1v6.9h-3.1zM914.3 1380.0h3.1v4.5h-3.1zM916.1 1374.6h3.1v5.7h-3.1zM917.9 1370.7h3.1v3.9h-3.1zM919.7 1370.7h3.1v9.9h-3.1zM921.5 1380.6h3.1v3.6h-3.1zM923.3 1363.5h3.1v22.0h-3.1zM925.1 1362.5h3.1v1.8h-3.1zM926.9 1362.4h3.1v1.8h-3.1zM928.7 1362.2h3.1v1.8h-3.1zM930.5 1362.0h3.1v21.0h-3.1zM932.3 1369.2h3.1v7.5h-3.1zM934.1 1365.2h3.1v4.3h-3.1zM935.9 1363.1h3.1v2.6h-3.1zM937.7 1362.3h3.1v1.8h-3.1zM939.5 1362.9h3.1v8.0h-3.1zM941.3 1370.9h3.1v4.2h-3.1zM943.1 1374.6h3.1v6.4h-3.1zM944.9 1380.9h3.1v2.2h-3.1zM946.6 1379.0h3.1v2.4h-3.1zM948.4 1369.7h3.1v10.1h-3.1zM950.2 1368.9h3.1v1.8h-3.1zM952.0 1367.9h3.1v14.4h-3.1zM953.8 1381.8h3.1v1.8h-3.1zM955.6 1383.2h3.1v1.8h-3.1zM957.4 1379.2h3.1v6.7h-3.1zM959.2 1380.3h3.1v1.8h-3.1zM961.0 1382.1h3.1v1.8h-3.1zM962.8 1375.8h3.1v9.6h-3.1zM964.6 1374.2h3.1v1.8h-3.1zM966.4 1371.8h3.1v2.7h-3.1zM968.2 1371.1h3.1v1.8h-3.1zM970.0 1370.2h3.1v12.8h-3.1zM971.8 1379.8h3.1v3.2h-3.1zM973.6 1374.9h3.1v4.9h-3.1zM975.4 1374.9h3.1v1.8h-3.1zM977.2 1374.9h3.1v1.8h-3.1zM979.0 1374.9h3.1v4.9h-3.1zM980.8 1379.8h3.1v6.2h-3.1zM982.6 1383.2h3.1v1.9h-3.1zM984.4 1375.8h3.1v7.7h-3.1zM986.2 1375.8h3.1v3.1h-3.1zM988.0 1371.9h3.1v11.1h-3.1zM989.8 1372.2h3.1v1.8h-3.1zM991.6 1372.5h3.1v1.8h-3.1zM993.4 1372.8h3.1v2.4h-3.1zM995.2 1374.7h3.1v5.3h-3.1zM996.9 1380.0h3.1v3.0h-3.1zM998.7 1369.2h3.1v13.8h-3.1zM1000.5 1367.1h3.1v2.3h-3.1zM1002.3 1368.5h3.1v5.4h-3.1zM1004.1 1373.9h3.1v3.4h-3.1zM1005.9 1373.4h3.1v2.4h-3.1zM1007.7 1369.0h3.1v4.9h-3.1zM1009.5 1363.9h3.1v5.2h-3.1zM1011.3 1360.8h3.1v3.0h-3.1zM1013.1 1362.6h3.1v3.9h-3.1zM1014.9 1366.1h3.1v10.7h-3.1zM1016.7 1376.1h3.1v3.6h-3.1zM1018.5 1379.7h3.1v4.1h-3.1zM1020.3 1379.8h3.1v2.9h-3.1zM1022.1 1378.5h3.1v2.9h-3.1zM1023.9 1380.5h3.1v2.6h-3.1zM1025.7 1375.8h3.1v4.8h-3.1zM1027.5 1374.4h3.1v1.9h-3.1zM1029.3 1375.7h3.1v1.8h-3.1zM1031.1 1376.7h3.1v2.1h-3.1zM1032.9 1376.8h3.1v1.8h-3.1zM1034.7 1376.7h3.1v1.8h-3.1zM1036.5 1376.4h3.1v1.9h-3.1zM1038.3 1376.3h3.1v1.8h-3.1zM1040.1 1376.1h3.1v1.8h-3.1zM1041.9 1376.0h3.1v6.4h-3.1zM1043.7 1382.4h3.1v2.7h-3.1zM1045.5 1379.3h3.1v3.6h-3.1zM1047.3 1378.2h3.1v2.2h-3.1zM1049.0 1379.9h3.1v1.8h-3.1zM1050.8 1378.8h3.1v3.9h-3.1zM1052.6 1374.7h3.1v4.1h-3.1zM1054.4 1364.1h3.1v11.9h-3.1zM1056.2 1361.3h3.1v3.2h-3.1zM1058.0 1360.2h3.1v10.3h-3.1zM1059.8 1368.7h3.1v1.8h-3.1zM1061.6 1368.7h3.1v1.8h-3.1zM1063.4 1368.7h3.1v1.8h-3.1zM1065.2 1368.7h3.1v10.8h-3.1zM1067.0 1376.1h3.1v2.1h-3.1zM1068.8 1375.0h3.1v4.4h-3.1zM1070.6 1379.4h3.1v4.4h-3.1zM1072.4 1381.0h3.1v1.8h-3.1zM1074.2 1379.2h3.1v1.8h-3.1zM1076.0 1376.8h3.1v2.6h-3.1zM1077.8 1376.1h3.1v1.8h-3.1zM1079.6 1374.4h3.1v2.6h-3.1zM1081.4 1373.0h3.1v1.8h-3.1zM1083.2 1371.5h3.1v11.5h-3.1zM1085.0 1382.8h3.1v1.8h-3.1zM1086.8 1384.4h3.1v1.8h-3.1zM1088.6 1379.9h3.1v7.1h-3.1zM1090.4 1371.4h3.1v8.9h-3.1zM1092.2 1372.9h3.1v5.4h-3.1zM1094.0 1378.3h3.1v3.1h-3.1zM1095.8 1378.3h3.1v1.8h-3.1zM1097.6 1376.3h3.1v2.2h-3.1zM1099.3 1377.4h3.1v2.4h-3.1zM1101.1 1379.8h3.1v2.4h-3.1zM1102.9 1378.1h3.1v5.4h-3.1zM1104.7 1373.2h3.1v5.0h-3.1zM1106.5 1370.6h3.1v2.7h-3.1zM1108.3 1367.6h3.1v3.0h-3.1zM1110.1 1367.1h3.1v1.8h-3.1zM1111.9 1367.6h3.1v10.6h-3.1zM1113.7 1377.3h3.1v1.8h-3.1zM1115.5 1377.9h3.1v5.5h-3.1zM1117.3 1380.2h3.1v5.0h-3.1zM1119.1 1372.7h3.1v7.5h-3.1zM1120.9 1371.8h3.1v1.8h-3.1zM1122.7 1371.8h3.1v1.8h-3.1zM1124.5 1372.7h3.1v10.3h-3.1zM1126.3 1373.4h3.1v1.8h-3.1zM1128.1 1372.1h3.1v2.1h-3.1zM1129.9 1373.2h3.1v6.4h-3.1zM1131.7 1379.6h3.1v3.4h-3.1zM1133.5 1381.4h3.1v1.8h-3.1zM1135.3 1381.7h3.1v1.8h-3.1zM1137.1 1382.0h3.1v1.8h-3.1zM1138.9 1366.7h3.1v16.3h-3.1zM1140.7 1366.7h3.1v1.8h-3.1zM1142.5 1366.7h3.1v1.8h-3.1zM1144.3 1366.7h3.1v18.4h-3.1zM1146.1 1367.7h3.1v17.4h-3.1zM1147.9 1368.0h3.1v1.8h-3.1zM1149.7 1368.5h3.1v14.5h-3.1zM1151.4 1368.5h3.1v14.5h-3.1zM1153.2 1367.2h3.1v2.0h-3.1zM1155.0 1365.5h3.1v1.8h-3.1zM1156.8 1365.5h3.1v19.6h-3.1zM1158.6 1383.8h3.1v1.8h-3.1zM1160.4 1382.7h3.1v1.8h-3.1zM1162.2 1374.9h3.1v9.0h-3.1zM1164.0 1374.9h3.1v1.8h-3.1zM1165.8 1374.9h3.1v1.8h-3.1zM1167.6 1374.9h3.1v1.8h-3.1zM1169.4 1374.9h3.1v1.8h-3.1zM1171.2 1374.3h3.1v2.4h-3.1zM1173.0 1373.0h3.1v1.8h-3.1zM1174.8 1366.3h3.1v7.6h-3.1zM1176.6 1363.7h3.1v3.1h-3.1zM1178.4 1360.5h3.1v3.2h-3.1zM1180.2 1360.5h3.1v1.8h-3.1zM1182.0 1360.5h3.1v1.8h-3.1zM1183.8 1360.5h3.1v14.3h-3.1zM1185.6 1373.2h3.1v1.8h-3.1zM1187.4 1372.1h3.1v2.2h-3.1zM1189.2 1374.2h3.1v2.1h-3.1zM1191.0 1376.3h3.1v2.1h-3.1zM1192.8 1377.8h3.1v2.7h-3.1zM1194.6 1380.3h3.1v1.8h-3.1zM1196.4 1367.6h3.1v15.9h-3.1zM1198.2 1369.9h3.1v3.8h-3.1zM1200.0 1372.1h3.1v1.8h-3.1zM1201.7 1372.5h3.1v1.8h-3.1zM1203.5 1372.8h3.1v4.3h-3.1zM1205.3 1377.1h3.1v6.5h-3.1zM1207.1 1378.3h3.1v7.0h-3.1zM1208.9 1372.6h3.1v5.7h-3.1zM1210.7 1370.7h3.1v3.9h-3.1zM1212.5 1374.6h3.1v5.3h-3.1zM1214.3 1367.6h3.1v9.0h-3.1zM1216.1 1367.1h3.1v1.8h-3.1zM1217.9 1367.6h3.1v15.4h-3.1zM1219.7 1370.4h3.1v7.6h-3.1zM1221.5 1371.8h3.1v3.6h-3.1zM1223.3 1375.4h3.1v3.5h-3.1zM1225.1 1378.9h3.1v6.2h-3.1zM1226.9 1369.0h3.1v16.1h-3.1zM1228.7 1363.7h3.1v5.4h-3.1zM1230.5 1362.4h3.1v9.2h-3.1zM1232.3 1370.2h3.1v1.8h-3.1zM1234.1 1370.7h3.1v15.0h-3.1zM1235.9 1383.1h3.1v1.8h-3.1zM1237.7 1382.3h3.1v1.8h-3.1zM1239.5 1383.1h3.1v1.8h-3.1zM1241.3 1383.9h3.1v1.9h-3.1zM1243.1 1382.8h3.1v1.8h-3.1zM1244.9 1379.5h3.1v3.8h-3.1zM1246.7 1376.1h3.1v3.4h-3.1zM1248.5 1376.5h3.1v1.8h-3.1zM1250.3 1374.8h3.1v3.9h-3.1zM1252.1 1372.7h3.1v12.9h-3.1zM1253.8 1381.5h3.1v2.8h-3.1zM1255.6 1377.3h3.1v4.8h-3.1zM1257.4 1374.3h3.1v3.1h-3.1zM1259.2 1372.8h3.1v1.8h-3.1zM1261.0 1371.9h3.1v2.6h-3.1zM1262.8 1374.4h3.1v1.8h-3.1zM1264.6 1375.7h3.1v7.3h-3.1zM1266.4 1377.2h3.1v3.5h-3.1zM1268.2 1369.0h3.1v9.0h-3.1zM1270.0 1364.5h3.1v4.5h-3.1zM1271.8 1362.8h3.1v4.4h-3.1zM1273.6 1367.2h3.1v13.8h-3.1zM1275.4 1381.0h3.1v4.8h-3.1zM1277.2 1380.4h3.1v4.3h-3.1zM1279.0 1377.5h3.1v3.1h-3.1zM1280.8 1376.5h3.1v2.0h-3.1zM1282.6 1378.3h3.1v3.0h-3.1zM1284.4 1371.9h3.1v10.6h-3.1zM1286.2 1372.7h3.1v1.8h-3.1zM1288.0 1374.1h3.1v1.8h-3.1zM1289.8 1374.8h3.1v10.6h-3.1zM1291.6 1380.3h3.1v3.7h-3.1zM1293.4 1377.0h3.1v3.5h-3.1zM1295.2 1371.3h3.1v5.7h-3.1zM1297.0 1366.8h3.1v4.8h-3.1zM1298.8 1367.9h3.1v4.6h-3.1zM1300.6 1371.7h3.1v1.9h-3.1zM1302.4 1371.8h3.1v8.9h-3.1zM1304.2 1378.4h3.1v1.8h-3.1zM1305.9 1377.5h3.1v1.8h-3.1zM1307.7 1367.9h3.1v10.9h-3.1zM1309.5 1364.0h3.1v3.9h-3.1zM1311.3 1362.7h3.1v1.8h-3.1zM1313.1 1362.9h3.1v11.0h-3.1zM1314.9 1373.3h3.1v3.0h-3.1zM1316.7 1365.5h3.1v12.5h-3.1zM1318.5 1364.6h3.1v1.8h-3.1zM1320.3 1364.6h3.1v1.8h-3.1zM1322.1 1364.6h3.1v5.0h-3.1zM1323.9 1369.2h3.1v16.1h-3.1zM1325.7 1380.0h3.1v3.7h-3.1zM1327.5 1376.4h3.1v4.4h-3.1zM1329.3 1372.8h3.1v4.2h-3.1zM1331.1 1370.7h3.1v2.1h-3.1zM1332.9 1370.7h3.1v8.6h-3.1zM1334.7 1379.3h3.1v4.2h-3.1zM1336.5 1382.9h3.1v1.8h-3.1zM1338.3 1382.2h3.1v2.0h-3.1zM1340.1 1382.9h3.1v1.8h-3.1zM1341.9 1382.1h3.1v3.5h-3.1zM1343.7 1376.9h3.1v5.2h-3.1zM1345.5 1367.6h3.1v9.3h-3.1zM1347.3 1367.4h3.1v1.8h-3.1zM1349.1 1367.2h3.1v4.4h-3.1zM1350.9 1371.7h3.1v5.3h-3.1zM1352.7 1376.4h3.1v2.5h-3.1zM1354.5 1378.9h3.1v2.5h-3.1zM1356.2 1381.3h3.1v2.4h-3.1zM1358.0 1381.3h3.1v1.8h-3.1zM1359.8 1379.9h3.1v2.4h-3.1zM1361.6 1376.1h3.1v4.4h-3.1zM1363.4 1371.5h3.1v5.3h-3.1zM1365.2 1370.2h3.1v14.7h-3.1zM1367.0 1382.8h3.1v1.8h-3.1zM1368.8 1382.3h3.1v1.8h-3.1zM1370.6 1374.7h3.1v9.2h-3.1zM1372.4 1376.5h3.1v1.8h-3.1zM1374.2 1377.7h3.1v2.5h-3.1zM1376.0 1379.4h3.1v1.8h-3.1zM1377.8 1372.8h3.1v9.1h-3.1zM1379.6 1372.4h3.1v1.8h-3.1zM1381.4 1371.9h3.1v2.5h-3.1zM1383.2 1374.4h3.1v2.7h-3.1zM1385.0 1377.0h3.1v3.1h-3.1zM1386.8 1379.6h3.1v2.4h-3.1zM1388.6 1382.1h3.1v2.4h-3.1zM1390.4 1383.4h3.1v2.2h-3.1zM1392.2 1381.5h3.1v2.0h-3.1zM1394.0 1377.1h3.1v5.1h-3.1zM1395.8 1373.5h3.1v3.6h-3.1zM1397.6 1372.2h3.1v2.0h-3.1zM1399.4 1373.5h3.1v4.3h-3.1zM1401.2 1377.4h3.1v4.1h-3.1zM1403.0 1381.5h3.1v4.5h-3.1zM1404.8 1383.7h3.1v1.8h-3.1zM1406.6 1382.8h3.1v1.8h-3.1zM1408.3 1374.7h3.1v9.3h-3.1zM1410.1 1374.3h3.1v1.8h-3.1zM1411.9 1373.9h3.1v3.4h-3.1zM1413.7 1377.3h3.1v2.5h-3.1zM1415.5 1379.8h3.1v3.1h-3.1zM1417.3 1381.1h3.1v1.8h-3.1zM1419.1 1381.1h3.1v1.8h-3.1zM1420.9 1381.1h3.1v1.8h-3.1zM1422.7 1371.9h3.1v11.0h-3.1zM1424.5 1366.7h3.1v5.2h-3.1zM1426.3 1366.7h3.1v1.8h-3.1zM1428.1 1367.6h3.1v6.2h-3.1zM1429.9 1373.1h3.1v1.8h-3.1zM1431.7 1374.8h3.1v8.8h-3.1zM1433.5 1380.4h3.1v2.0h-3.1zM1435.3 1377.4h3.1v3.2h-3.1zM1437.1 1373.0h3.1v4.8h-3.1zM1438.9 1368.1h3.1v4.9h-3.1zM1440.7 1362.5h3.1v5.6h-3.1zM1442.5 1361.8h3.1v1.8h-3.1zM1444.3 1360.8h3.1v8.8h-3.1zM1446.1 1369.3h3.1v1.8h-3.1zM1447.9 1370.7h3.1v1.8h-3.1zM1449.7 1371.6h3.1v10.4h-3.1zM1451.5 1381.3h3.1v2.0h-3.1zM1453.3 1383.3h3.1v2.0h-3.1zM1455.1 1381.7h3.1v4.9h-3.1zM1456.9 1375.0h3.1v6.7h-3.1zM1458.6 1375.7h3.1v1.8h-3.1zM1460.4 1376.7h3.1v2.9h-3.1zM1462.2 1379.5h3.1v3.5h-3.1zM1464.0 1377.9h3.1v6.0h-3.1zM1465.8 1374.9h3.1v3.0h-3.1zM1467.6 1374.9h3.1v1.8h-3.1zM1469.4 1374.9h3.1v1.8h-3.1zM1471.2 1374.9h3.1v1.8h-3.1zM1473.0 1374.9h3.1v1.8h-3.1zM1474.8 1374.9h3.1v1.8h-3.1zM1476.6 1374.9h3.1v2.1h-3.1zM1478.4 1376.4h3.1v2.2h-3.1zM1480.2 1378.5h3.1v2.2h-3.1zM1482.0 1380.1h3.1v2.1h-3.1zM1483.8 1374.9h3.1v5.2h-3.1zM1485.6 1375.9h3.1v2.3h-3.1zM1487.4 1378.1h3.1v2.3h-3.1zM1489.2 1379.8h3.1v2.8h-3.1zM1491.0 1382.5h3.1v2.0h-3.1zM1492.8 1380.9h3.1v4.8h-3.1zM1494.6 1375.2h3.1v5.7h-3.1zM1496.4 1370.7h3.1v4.6h-3.1zM1498.2 1372.6h3.1v11.3h-3.1zM1500.0 1383.0h3.1v1.8h-3.1zM1501.8 1379.5h3.1v6.4h-3.1zM1503.6 1375.4h3.1v4.1h-3.1zM1505.4 1376.8h3.1v3.0h-3.1zM1507.2 1378.9h3.1v4.3h-3.1zM1509.0 1379.6h3.1v5.5h-3.1zM1510.7 1370.1h3.1v9.5h-3.1zM1512.5 1371.3h3.1v5.6h-3.1zM1514.3 1376.0h3.1v5.1h-3.1zM1516.1 1380.7h3.1v2.3h-3.1zM1517.9 1376.1h3.1v4.6h-3.1zM1519.7 1377.1h3.1v1.8h-3.1zM1521.5 1372.0h3.1v7.8h-3.1zM1523.3 1370.4h3.1v12.9h-3.1zM1525.1 1377.7h3.1v4.2h-3.1zM1526.9 1375.8h3.1v2.2h-3.1zM1528.7 1378.0h3.1v4.2h-3.1zM1530.5 1378.8h3.1v4.7h-3.1zM1532.3 1376.1h3.1v2.7h-3.1zM1534.1 1376.4h3.1v1.8h-3.1zM1535.9 1376.8h3.1v1.8h-3.1zM1537.7 1377.0h3.1v6.9h-3.1zM1539.5 1382.1h3.1v1.8h-3.1zM1541.3 1382.1h3.1v1.8h-3.1zM1543.1 1382.1h3.1v1.8h-3.1zM1544.9 1368.1h3.1v15.8h-3.1zM1546.7 1369.1h3.1v1.8h-3.1zM1548.5 1370.7h3.1v12.9h-3.1zM1550.3 1381.0h3.1v1.8h-3.1zM1552.1 1369.3h3.1v12.7h-3.1zM1553.9 1363.6h3.1v6.2h-3.1zM1555.7 1363.0h3.1v1.8h-3.1zM1557.5 1362.2h3.1v11.4h-3.1zM1559.3 1372.7h3.1v3.7h-3.1zM1561.0 1376.3h3.1v3.4h-3.1zM1562.8 1379.7h3.1v3.0h-3.1zM1564.6 1379.3h3.1v4.4h-3.1zM1566.4 1374.4h3.1v4.9h-3.1zM1568.2 1368.7h3.1v6.2h-3.1zM1570.0 1367.7h3.1v15.3h-3.1zM1571.8 1382.1h3.1v1.8h-3.1zM1573.6 1382.1h3.1v1.8h-3.1zM1575.4 1382.1h3.1v1.8h-3.1zM1577.2 1380.4h3.1v3.5h-3.1zM1579.0 1374.1h3.1v6.3h-3.1zM1580.8 1367.3h3.1v6.8h-3.1zM1582.6 1363.0h3.1v4.9h-3.1zM1584.4 1362.1h3.1v12.4h-3.1zM1586.2 1374.4h3.1v4.2h-3.1zM1588.0 1378.4h3.1v3.3h-3.1zM1589.8 1381.7h3.1v2.6h-3.1zM1591.6 1379.6h3.1v6.0h-3.1zM1593.4 1364.5h3.1v15.1h-3.1zM1595.2 1360.8h3.1v3.7h-3.1zM1597.0 1355.4h3.1v5.4h-3.1zM1598.8 1354.4h3.1v14.2h-3.1zM1600.6 1367.2h3.1v1.8h-3.1zM1600.6 1376.5h3.1v2.4h-3.1zM1602.4 1367.6h3.1v4.6h-3.1zM1602.4 1375.2h3.1v3.9h-3.1zM1604.2 1372.2h3.1v3.8h-3.1zM1604.2 1377.6h3.1v1.8h-3.1zM1606.0 1377.8h3.1v1.8h-3.1zM1607.8 1375.0h3.1v4.8h-3.1zM1609.6 1371.7h3.1v3.3h-3.1zM1611.4 1371.7h3.1v13.4h-3.1zM1613.1 1383.4h3.1v1.8h-3.1zM1614.9 1381.7h3.1v1.8h-3.1zM1616.7 1379.4h3.1v2.8h-3.1zM1618.5 1377.3h3.1v2.3h-3.1zM1620.3 1375.3h3.1v2.1h-3.1zM1622.1 1376.7h3.1v2.7h-3.1zM1623.9 1379.4h3.1v3.5h-3.1zM1625.7 1380.4h3.1v1.8h-3.1zM1627.5 1379.0h3.1v1.8h-3.1zM1629.3 1378.2h3.1v2.5h-3.1zM1631.1 1380.7h3.1v3.2h-3.1zM1632.9 1381.2h3.1v1.8h-3.1zM1634.7 1379.4h3.1v1.8h-3.1zM1636.5 1376.2h3.1v3.3h-3.1zM1638.3 1364.6h3.1v11.7h-3.1zM1640.1 1364.6h3.1v1.8h-3.1zM1641.9 1364.6h3.1v11.1h-3.1zM1643.7 1374.9h3.1v2.5h-3.1zM1645.5 1377.3h3.1v2.5h-3.1zM1647.3 1379.0h3.1v2.4h-3.1zM1649.1 1380.6h3.1v1.8h-3.1zM1650.9 1381.6h3.1v2.2h-3.1zM1652.7 1381.8h3.1v1.8h-3.1zM1654.5 1381.4h3.1v1.8h-3.1zM1656.3 1369.4h3.1v13.5h-3.1zM1658.1 1366.8h3.1v3.2h-3.1zM1659.9 1363.7h3.1v3.2h-3.1zM1661.7 1361.7h3.1v2.8h-3.1zM1663.5 1360.7h3.1v7.4h-3.1zM1665.2 1368.0h3.1v4.3h-3.1zM1667.0 1372.1h3.1v2.1h-3.1zM1668.8 1374.3h3.1v2.1h-3.1zM1670.6 1375.8h3.1v1.9h-3.1zM1672.4 1375.4h3.1v1.8h-3.1zM1674.2 1374.3h3.1v2.6h-3.1zM1676.0 1369.8h3.1v4.7h-3.1zM1677.8 1370.2h3.1v1.8h-3.1zM1679.6 1370.6h3.1v3.3h-3.1zM1681.4 1374.0h3.1v5.4h-3.1zM1683.2 1379.0h3.1v4.4h-3.1zM1685.0 1372.5h3.1v9.6h-3.1zM1686.8 1366.9h3.1v5.6h-3.1zM1688.6 1363.0h3.1v3.9h-3.1zM1690.4 1362.1h3.1v20.9h-3.1zM1692.2 1374.1h3.1v8.9h-3.1zM1694.0 1370.0h3.1v4.2h-3.1zM1695.8 1370.4h3.1v1.8h-3.1zM1697.6 1370.7h3.1v12.3h-3.1zM1699.4 1380.7h3.1v2.3h-3.1zM1701.2 1378.8h3.1v2.0h-3.1zM1703.0 1380.4h3.1v4.5h-3.1zM1704.8 1381.0h3.1v4.9h-3.1zM1706.6 1378.0h3.1v3.0h-3.1zM1708.4 1378.0h3.1v1.8h-3.1zM1710.2 1378.0h3.1v7.1h-3.1zM1712.0 1371.7h3.1v11.0h-3.1zM1713.8 1369.6h3.1v3.0h-3.1zM1715.5 1367.6h3.1v2.0h-3.1zM1717.3 1367.6h3.1v17.5h-3.1zM1719.1 1384.0h3.1v1.8h-3.1zM1720.9 1383.6h3.1v1.8h-3.1zM1722.7 1380.9h3.1v4.1h-3.1zM1724.5 1368.1h3.1v12.8h-3.1zM1726.3 1369.5h3.1v2.0h-3.1zM1728.1 1371.2h3.1v3.0h-3.1zM1729.9 1373.9h3.1v2.7h-3.1zM1731.7 1376.6h3.1v2.9h-3.1zM1733.5 1374.2h3.1v4.1h-3.1zM1735.3 1370.6h3.1v3.6h-3.1zM1737.1 1372.2h3.1v10.5h-3.1zM1738.9 1371.5h3.1v12.3h-3.1zM1740.7 1365.3h3.1v6.2h-3.1zM1742.5 1363.8h3.1v2.2h-3.1zM1744.3 1365.0h3.1v3.5h-3.1zM1746.1 1367.6h3.1v16.9h-3.1zM1747.9 1384.1h3.1v1.8h-3.1zM1749.7 1382.3h3.1v2.1h-3.1zM1751.5 1373.8h3.1v9.3h-3.1zM1753.3 1367.6h3.1v6.2h-3.1zM1755.1 1363.1h3.1v4.5h-3.1zM1756.9 1362.1h3.1v11.7h-3.1zM1758.7 1373.1h3.1v3.1h-3.1zM1760.5 1376.2h3.1v2.7h-3.1zM1762.3 1378.9h3.1v4.3h-3.1zM1764.1 1378.6h3.1v3.0h-3.1zM1765.9 1376.6h3.1v2.5h-3.1zM1767.6 1375.6h3.1v1.8h-3.1zM1769.4 1374.5h3.1v1.8h-3.1zM1771.2 1370.7h3.1v5.0h-3.1zM1773.0 1373.5h3.1v4.1h-3.1zM1774.8 1375.0h3.1v1.8h-3.1zM1776.6 1373.7h3.1v1.8h-3.1zM1778.4 1372.9h3.1v3.3h-3.1zM1780.2 1375.7h3.1v3.5h-3.1zM1782.0 1379.2h3.1v3.0h-3.1zM1783.8 1381.3h3.1v2.2h-3.1zM1785.6 1379.5h3.1v2.0h-3.1zM1787.4 1377.8h3.1v1.8h-3.1zM1789.2 1360.8h3.1v17.1h-3.1zM1791.0 1360.9h3.1v2.0h-3.1zM1792.8 1362.9h3.1v2.6h-3.1zM1794.6 1365.5h3.1v13.3h-3.1zM1796.4 1378.8h3.1v6.3h-3.1zM1798.2 1367.7h3.1v17.4h-3.1zM1800.0 1367.7h3.1v1.8h-3.1zM1801.8 1367.7h3.1v1.8h-3.1zM1803.6 1368.6h3.1v14.6h-3.1zM1805.4 1379.3h3.1v2.4h-3.1zM1807.2 1375.9h3.1v4.1h-3.1zM1809.0 1372.7h3.1v3.2h-3.1zM1810.8 1362.7h3.1v10.0h-3.1zM1812.6 1363.4h3.1v1.8h-3.1zM1814.4 1364.2h3.1v2.8h-3.1zM1816.2 1366.7h3.1v4.7h-3.1zM1817.9 1368.6h3.1v1.9h-3.1zM1819.7 1367.7h3.1v18.3h-3.1zM1821.5 1384.2h3.1v1.8h-3.1zM1823.3 1376.1h3.1v9.9h-3.1zM1825.1 1376.9h3.1v1.8h-3.1zM1826.9 1378.3h3.1v2.4h-3.1zM1828.7 1377.7h3.1v2.0h-3.1zM1830.5 1375.7h3.1v2.0h-3.1zM1832.3 1371.9h3.1v4.2h-3.1zM1834.1 1368.6h3.1v14.4h-3.1zM1835.9 1372.3h3.1v10.7h-3.1zM1837.7 1367.6h3.1v4.7h-3.1zM1839.5 1371.5h3.1v6.0h-3.1zM1841.3 1376.7h3.1v1.8h-3.1zM1843.1 1376.2h3.1v1.8h-3.1zM1844.9 1376.9h3.1v6.1h-3.1zM1846.7 1371.5h3.1v8.5h-3.1zM1848.5 1368.7h3.1v3.2h-3.1zM1850.3 1367.3h3.1v2.1h-3.1zM1852.1 1369.3h3.1v4.5h-3.1zM1853.9 1373.1h3.1v6.2h-3.1zM1855.7 1378.7h3.1v2.9h-3.1zM1857.5 1381.5h3.1v1.8h-3.1zM1859.3 1383.3h3.1v1.8h-3.1zM226.5 1172.0h2.2v217.6h-2.2zM228.7 1069.0h3.4v103.0h-3.4zM231.5 1043.0h2.6v210.5h-2.6zM233.4 1252.0h2.4v98.5h-2.4zM237.0 1262.0h0.9v78.0h-0.9z"/>
<text class="t" y="1455.7"><tspan x="211.54">0</tspan></text>
<text class="t" y="1455.7"><tspan x="353.34" textLength="68.47" lengthAdjust="spacingAndGlyphs">50</tspan></text>
<text class="t" clip-path="url(#c4)" x="502.67 534.09 570.44" y="1455.7">100</text>
<text class="t" clip-path="url(#c5)" x="668.07 699.50 735.04" y="1455.7">150</text>
<text class="t" y="1455.7"><tspan x="826.95" textLength="104.39" lengthAdjust="spacingAndGlyphs">200</tspan></text>
<text class="t" y="1455.7"><tspan x="990.38" textLength="106.82" lengthAdjust="spacingAndGlyphs">250</tspan></text>
<text class="t" y="1455.7"><tspan x="1155.36" textLength="102.54" lengthAdjust="spacingAndGlyphs">300</tspan></text>
<text class="t" y="1455.7"><tspan x="1316.98" textLength="101.81" lengthAdjust="spacingAndGlyphs">350</tspan></text>
<text class="t" y="1455.7"><tspan x="1481.17" textLength="103.65" lengthAdjust="spacingAndGlyphs">400</tspan></text>
<text class="t" y="1455.7"><tspan x="1642.89" textLength="102.61" lengthAdjust="spacingAndGlyphs">450</tspan></text>
<text class="t" y="1455.7"><tspan x="1808.64" textLength="102.67" lengthAdjust="spacingAndGlyphs">500</tspan></text>
<text class="t" y="923.0"><tspan x="130.72" textLength="81.25" lengthAdjust="spacingAndGlyphs">0.3</tspan></text>
<text class="t" y="1002.1"><tspan x="92.91" textLength="119.06" lengthAdjust="spacingAndGlyphs">0.25</tspan></text>
<text class="t" y="1083.9"><tspan x="130.71" textLength="81.65" lengthAdjust="spacingAndGlyphs">0.2</tspan></text>
<text class="t" clip-path="url(#c6)" x="93.69 130.33 146.97 178.45" y="1164.8">0.15</text>
<text class="t" clip-path="url(#c7)" x="129.84 164.03 182.27" y="1244.5">0.1</text>
<text class="t" y="1329.7"><tspan x="92.91" textLength="119.06" lengthAdjust="spacingAndGlyphs">0.05</tspan></text>
<text class="t" y="1409.7"><tspan x="178.04">0</tspan></text>
<text class="t" y="857.6"><tspan x="828.01" textLength="111.49" lengthAdjust="spacingAndGlyphs">FFT</tspan> <tspan x="950.52" textLength="76.85" lengthAdjust="spacingAndGlyphs">(Y)</tspan> <tspan x="1037.43" textLength="211.14" lengthAdjust="spacingAndGlyphs">(0~500)</tspan></text>
<text class="t" y="1530.2"><tspan x="838.22" textLength="275.40" lengthAdjust="spacingAndGlyphs">Frequency</tspan> <tspan x="1128.68" textLength="110.35" lengthAdjust="spacingAndGlyphs">(Hz)</tspan></text>
<text class="t" transform="translate(56.3 1208.0) rotate(-90)" textLength="121.03" lengthAdjust="spacingAndGlyphs">(µm)</text>
</g>
</g>
</svg>
</body>
</html>
